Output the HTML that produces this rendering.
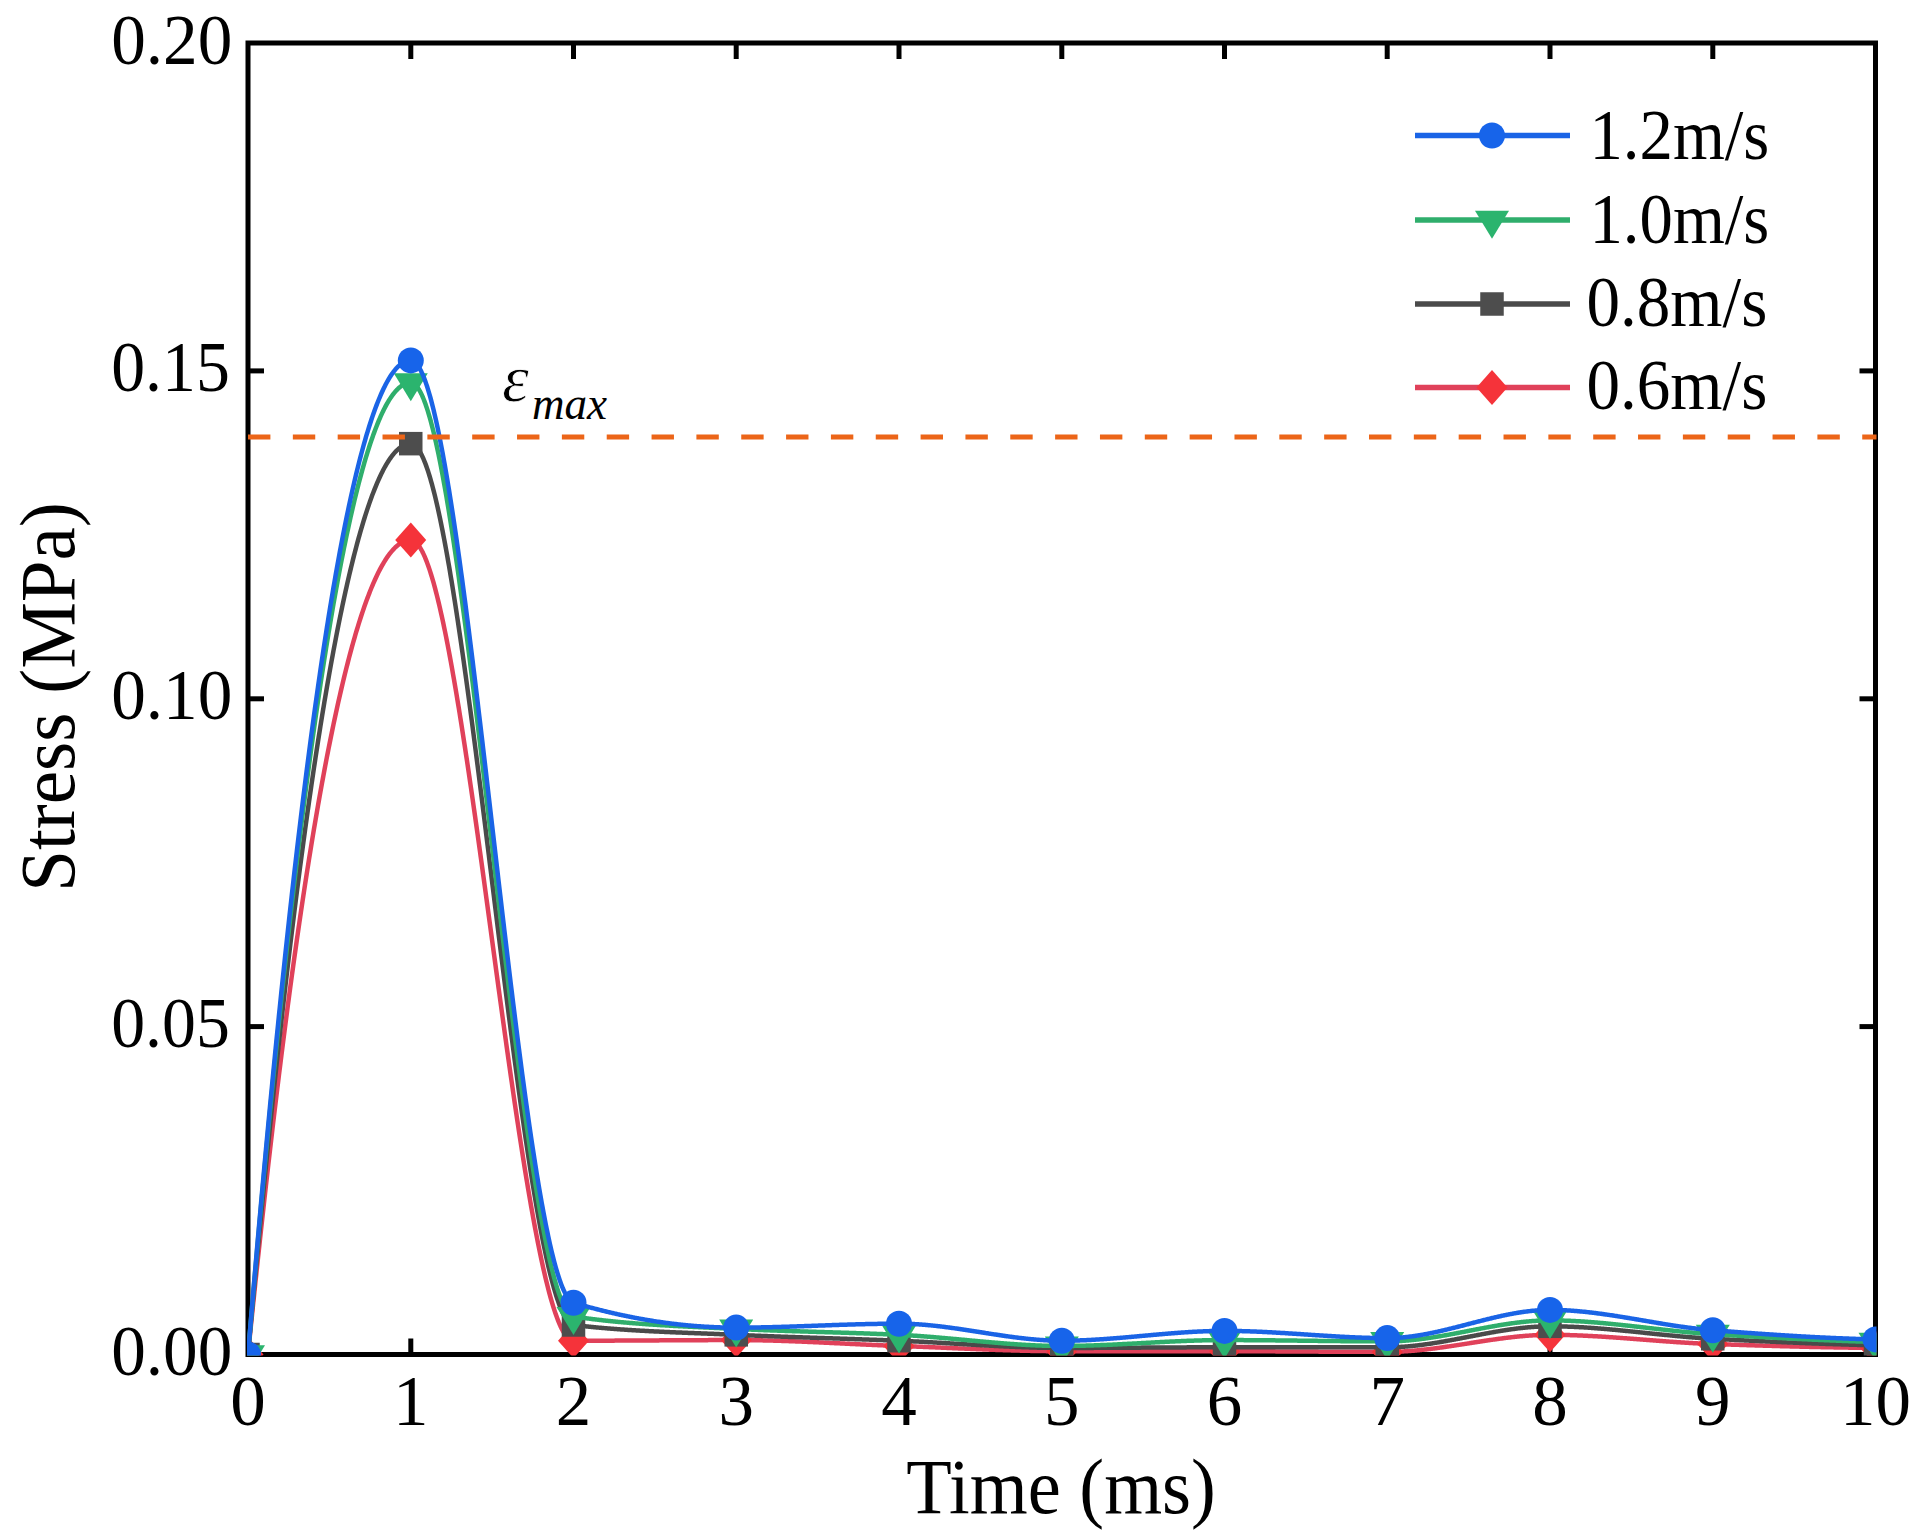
<!DOCTYPE html>
<html><head><meta charset="utf-8"><style>
html,body{margin:0;padding:0;background:#fff;}
body{width:1914px;height:1534px;overflow:hidden;}
svg{display:block;}
text{font-family:"Liberation Serif","Times New Roman",serif;fill:#000;}
.tk{font-size:71px;}
.lg{font-size:71px;}
</style></head><body>
<svg width="1914" height="1534" viewBox="0 0 1914 1534">
<rect width="1914" height="1534" fill="#fff"/>
<defs><clipPath id="pc"><rect x="247.0" y="42.0" width="1629.5" height="1313.5"/></clipPath></defs>
<g stroke="#000" stroke-width="5" fill="none">
<rect x="248.0" y="43.0" width="1627.5" height="1311.5"/>
<line x1="410.8" y1="1354.5" x2="410.8" y2="1338.5"/>
<line x1="410.8" y1="43.0" x2="410.8" y2="59.0"/>
<line x1="573.5" y1="1354.5" x2="573.5" y2="1338.5"/>
<line x1="573.5" y1="43.0" x2="573.5" y2="59.0"/>
<line x1="736.2" y1="1354.5" x2="736.2" y2="1338.5"/>
<line x1="736.2" y1="43.0" x2="736.2" y2="59.0"/>
<line x1="899.0" y1="1354.5" x2="899.0" y2="1338.5"/>
<line x1="899.0" y1="43.0" x2="899.0" y2="59.0"/>
<line x1="1061.8" y1="1354.5" x2="1061.8" y2="1338.5"/>
<line x1="1061.8" y1="43.0" x2="1061.8" y2="59.0"/>
<line x1="1224.5" y1="1354.5" x2="1224.5" y2="1338.5"/>
<line x1="1224.5" y1="43.0" x2="1224.5" y2="59.0"/>
<line x1="1387.2" y1="1354.5" x2="1387.2" y2="1338.5"/>
<line x1="1387.2" y1="43.0" x2="1387.2" y2="59.0"/>
<line x1="1550.0" y1="1354.5" x2="1550.0" y2="1338.5"/>
<line x1="1550.0" y1="43.0" x2="1550.0" y2="59.0"/>
<line x1="1712.8" y1="1354.5" x2="1712.8" y2="1338.5"/>
<line x1="1712.8" y1="43.0" x2="1712.8" y2="59.0"/>
<line x1="248.0" y1="1026.6" x2="264.0" y2="1026.6"/>
<line x1="1875.5" y1="1026.6" x2="1859.5" y2="1026.6"/>
<line x1="248.0" y1="698.8" x2="264.0" y2="698.8"/>
<line x1="1875.5" y1="698.8" x2="1859.5" y2="698.8"/>
<line x1="248.0" y1="370.9" x2="264.0" y2="370.9"/>
<line x1="1875.5" y1="370.9" x2="1859.5" y2="370.9"/>
</g>
<g clip-path="url(#pc)">
<polyline points="248.00,1354.50 248.81,1346.41 249.63,1338.36 250.44,1330.35 251.25,1322.38 252.07,1314.45 252.88,1306.56 253.70,1298.71 254.51,1290.90 255.32,1283.13 256.14,1275.40 256.95,1267.71 257.76,1260.06 258.58,1252.45 259.39,1244.89 260.21,1237.36 261.02,1229.87 261.83,1222.42 262.65,1215.01 263.46,1207.64 264.27,1200.31 265.09,1193.03 265.90,1185.78 266.72,1178.57 267.53,1171.40 268.34,1164.27 269.16,1157.19 269.97,1150.14 270.79,1143.13 271.60,1136.17 272.41,1129.24 273.23,1122.35 274.04,1115.51 274.85,1108.70 275.67,1101.93 276.48,1095.21 277.30,1088.52 278.11,1081.88 278.92,1075.27 279.74,1068.71 280.55,1062.18 281.36,1055.70 282.18,1049.25 282.99,1042.85 283.81,1036.49 284.62,1030.16 285.43,1023.88 286.25,1017.64 287.06,1011.43 287.87,1005.27 288.69,999.15 289.50,993.07 290.31,987.03 291.13,981.03 291.94,975.07 292.76,969.14 293.57,963.26 294.38,957.42 295.20,951.63 296.01,945.87 296.82,940.15 297.64,934.47 298.45,928.83 299.27,923.23 300.08,917.68 300.89,912.16 301.71,906.68 302.52,901.24 303.33,895.85 304.15,890.49 304.96,885.18 305.78,879.90 306.59,874.67 307.40,869.48 308.22,864.32 309.03,859.21 309.85,854.14 310.66,849.10 311.47,844.11 312.29,839.16 313.10,834.25 313.91,829.38 314.73,824.55 315.54,819.76 316.36,815.01 317.17,810.30 317.98,805.63 318.80,801.00 319.61,796.42 320.42,791.87 321.24,787.36 322.05,782.90 322.87,778.47 323.68,774.09 324.49,769.74 325.31,765.44 326.12,761.18 326.93,756.95 327.75,752.77 328.56,748.63 329.38,744.53 330.19,740.47 331.00,736.45 331.82,732.47 332.63,728.53 333.44,724.63 334.26,720.77 335.07,716.96 335.88,713.18 336.70,709.45 337.51,705.75 338.33,702.10 339.14,698.48 339.95,694.91 340.77,691.37 341.58,687.88 342.39,684.43 343.21,681.02 344.02,677.65 344.84,674.32 345.65,671.03 346.46,667.78 347.28,664.57 348.09,661.41 348.90,658.28 349.72,655.19 350.53,652.15 351.35,649.14 352.16,646.18 352.97,643.26 353.79,640.38 354.60,637.53 355.42,634.73 356.23,631.97 357.04,629.25 357.86,626.57 358.67,623.94 359.48,621.34 360.30,618.78 361.11,616.27 361.93,613.79 362.74,611.36 363.55,608.96 364.37,606.61 365.18,604.30 365.99,602.03 366.81,599.80 367.62,597.61 368.44,595.46 369.25,593.35 370.06,591.28 370.88,589.26 371.69,587.27 372.50,585.33 373.32,583.42 374.13,581.56 374.94,579.74 375.76,577.96 376.57,576.22 377.39,574.52 378.20,572.86 379.01,571.24 379.83,569.66 380.64,568.12 381.46,566.63 382.27,565.17 383.08,563.76 383.90,562.39 384.71,561.06 385.52,559.77 386.34,558.52 387.15,557.31 387.97,556.14 388.78,555.01 389.59,553.92 390.41,552.88 391.22,551.87 392.03,550.91 392.85,549.99 393.66,549.11 394.48,548.26 395.29,547.47 396.10,546.71 396.92,545.99 397.73,545.31 398.54,544.68 399.36,544.08 400.17,543.53 400.99,543.01 401.80,542.54 402.61,542.11 403.43,541.72 404.24,541.37 405.05,541.06 405.87,540.80 406.68,540.57 407.50,540.39 408.31,540.24 409.12,540.14 409.94,540.08 410.75,540.06 411.56,540.12 412.38,540.30 413.19,540.59 414.00,541.01 414.82,541.53 415.63,542.18 416.45,542.93 417.26,543.80 418.07,544.78 418.89,545.86 419.70,547.06 420.51,548.36 421.33,549.77 422.14,551.28 422.96,552.89 423.77,554.61 424.58,556.43 425.40,558.35 426.21,560.36 427.03,562.48 427.84,564.69 428.65,566.99 429.47,569.39 430.28,571.88 431.09,574.46 431.91,577.13 432.72,579.90 433.54,582.74 434.35,585.68 435.16,588.70 435.98,591.80 436.79,594.99 437.60,598.26 438.42,601.61 439.23,605.04 440.04,608.54 440.86,612.13 441.67,615.79 442.49,619.52 443.30,623.33 444.11,627.21 444.93,631.16 445.74,635.18 446.56,639.26 447.37,643.42 448.18,647.64 449.00,651.93 449.81,656.28 450.62,660.69 451.44,665.16 452.25,669.70 453.06,674.29 453.88,678.94 454.69,683.65 455.51,688.41 456.32,693.22 457.13,698.09 457.95,703.01 458.76,707.98 459.57,713.00 460.39,718.07 461.20,723.19 462.02,728.35 462.83,733.55 463.64,738.80 464.46,744.09 465.27,749.42 466.08,754.79 466.90,760.20 467.71,765.65 468.53,771.13 469.34,776.65 470.15,782.20 470.97,787.78 471.78,793.40 472.60,799.04 473.41,804.71 474.22,810.41 475.04,816.14 475.85,821.89 476.66,827.67 477.48,833.47 478.29,839.29 479.10,845.13 479.92,850.99 480.73,856.87 481.55,862.77 482.36,868.68 483.17,874.60 483.99,880.54 484.80,886.49 485.62,892.46 486.43,898.43 487.24,904.41 488.06,910.39 488.87,916.39 489.68,922.38 490.50,928.39 491.31,934.39 492.12,940.39 492.94,946.40 493.75,952.40 494.57,958.40 495.38,964.40 496.19,970.39 497.01,976.38 497.82,982.36 498.63,988.33 499.45,994.29 500.26,1000.24 501.08,1006.18 501.89,1012.11 502.70,1018.02 503.52,1023.92 504.33,1029.79 505.15,1035.65 505.96,1041.50 506.77,1047.32 507.59,1053.12 508.40,1058.89 509.21,1064.65 510.03,1070.37 510.84,1076.07 511.66,1081.75 512.47,1087.39 513.28,1093.01 514.10,1098.59 514.91,1104.14 515.72,1109.66 516.54,1115.14 517.35,1120.59 518.16,1126.00 518.98,1131.37 519.79,1136.70 520.61,1141.99 521.42,1147.24 522.23,1152.44 523.05,1157.60 523.86,1162.72 524.67,1167.78 525.49,1172.80 526.30,1177.78 527.12,1182.70 527.93,1187.56 528.74,1192.38 529.56,1197.14 530.37,1201.85 531.18,1206.50 532.00,1211.09 532.81,1215.62 533.63,1220.10 534.44,1224.51 535.25,1228.86 536.07,1233.15 536.88,1237.37 537.69,1241.52 538.51,1245.61 539.32,1249.63 540.14,1253.58 540.95,1257.46 541.76,1261.27 542.58,1265.00 543.39,1268.66 544.21,1272.24 545.02,1275.75 545.83,1279.18 546.65,1282.53 547.46,1285.80 548.27,1288.98 549.09,1292.09 549.90,1295.11 550.72,1298.04 551.53,1300.89 552.34,1303.65 553.16,1306.33 553.97,1308.91 554.78,1311.40 555.60,1313.80 556.41,1316.10 557.23,1318.31 558.04,1320.42 558.85,1322.44 559.67,1324.36 560.48,1326.18 561.29,1327.89 562.11,1329.51 562.92,1331.02 563.74,1332.43 564.55,1333.73 565.36,1334.92 566.18,1336.01 566.99,1336.99 567.80,1337.86 568.62,1338.61 569.43,1339.25 570.25,1339.78 571.06,1340.19 571.87,1340.49 572.69,1340.67 573.50,1340.73 574.31,1340.73 575.13,1340.73 575.94,1340.73 576.75,1340.73 577.57,1340.73 578.38,1340.73 579.20,1340.73 580.01,1340.73 580.82,1340.73 581.64,1340.72 582.45,1340.72 583.26,1340.72 584.08,1340.72 584.89,1340.72 585.71,1340.72 586.52,1340.72 587.33,1340.72 588.15,1340.71 588.96,1340.71 589.77,1340.71 590.59,1340.71 591.40,1340.71 592.22,1340.71 593.03,1340.70 593.84,1340.70 594.66,1340.70 595.47,1340.70 596.29,1340.69 597.10,1340.69 597.91,1340.69 598.73,1340.69 599.54,1340.68 600.35,1340.68 601.17,1340.68 601.98,1340.68 602.80,1340.67 603.61,1340.67 604.42,1340.67 605.24,1340.66 606.05,1340.66 606.86,1340.66 607.68,1340.65 608.49,1340.65 609.31,1340.65 610.12,1340.64 610.93,1340.64 611.75,1340.64 612.56,1340.63 613.37,1340.63 614.19,1340.63 615.00,1340.62 615.82,1340.62 616.63,1340.62 617.44,1340.61 618.26,1340.61 619.07,1340.60 619.88,1340.60 620.70,1340.60 621.51,1340.59 622.33,1340.59 623.14,1340.58 623.95,1340.58 624.77,1340.58 625.58,1340.57 626.39,1340.57 627.21,1340.56 628.02,1340.56 628.84,1340.55 629.65,1340.55 630.46,1340.54 631.28,1340.54 632.09,1340.54 632.90,1340.53 633.72,1340.53 634.53,1340.52 635.35,1340.52 636.16,1340.51 636.97,1340.51 637.79,1340.50 638.60,1340.50 639.41,1340.49 640.23,1340.49 641.04,1340.48 641.86,1340.48 642.67,1340.47 643.48,1340.47 644.30,1340.46 645.11,1340.46 645.92,1340.46 646.74,1340.45 647.55,1340.45 648.37,1340.44 649.18,1340.44 649.99,1340.43 650.81,1340.43 651.62,1340.42 652.43,1340.42 653.25,1340.41 654.06,1340.41 654.88,1340.40 655.69,1340.40 656.50,1340.39 657.32,1340.39 658.13,1340.38 658.94,1340.38 659.76,1340.37 660.57,1340.37 661.38,1340.36 662.20,1340.36 663.01,1340.35 663.83,1340.35 664.64,1340.34 665.45,1340.34 666.27,1340.33 667.08,1340.33 667.89,1340.32 668.71,1340.32 669.52,1340.31 670.34,1340.31 671.15,1340.30 671.96,1340.30 672.78,1340.29 673.59,1340.29 674.40,1340.29 675.22,1340.28 676.03,1340.28 676.85,1340.27 677.66,1340.27 678.47,1340.26 679.29,1340.26 680.10,1340.25 680.92,1340.25 681.73,1340.24 682.54,1340.24 683.36,1340.24 684.17,1340.23 684.98,1340.23 685.80,1340.22 686.61,1340.22 687.42,1340.22 688.24,1340.21 689.05,1340.21 689.87,1340.20 690.68,1340.20 691.49,1340.19 692.31,1340.19 693.12,1340.19 693.94,1340.18 694.75,1340.18 695.56,1340.18 696.38,1340.17 697.19,1340.17 698.00,1340.17 698.82,1340.16 699.63,1340.16 700.45,1340.15 701.26,1340.15 702.07,1340.15 702.89,1340.14 703.70,1340.14 704.51,1340.14 705.33,1340.14 706.14,1340.13 706.96,1340.13 707.77,1340.13 708.58,1340.12 709.40,1340.12 710.21,1340.12 711.02,1340.12 711.84,1340.11 712.65,1340.11 713.46,1340.11 714.28,1340.11 715.09,1340.10 715.91,1340.10 716.72,1340.10 717.53,1340.10 718.35,1340.10 719.16,1340.09 719.98,1340.09 720.79,1340.09 721.60,1340.09 722.42,1340.09 723.23,1340.09 724.04,1340.08 724.86,1340.08 725.67,1340.08 726.49,1340.08 727.30,1340.08 728.11,1340.08 728.93,1340.08 729.74,1340.08 730.55,1340.08 731.37,1340.08 732.18,1340.07 733.00,1340.07 733.81,1340.07 734.62,1340.07 735.44,1340.07 736.25,1340.07 737.06,1340.07 737.88,1340.07 738.69,1340.08 739.50,1340.08 740.32,1340.08 741.13,1340.08 741.95,1340.09 742.76,1340.09 743.57,1340.10 744.39,1340.10 745.20,1340.11 746.01,1340.12 746.83,1340.12 747.64,1340.13 748.46,1340.14 749.27,1340.15 750.08,1340.16 750.90,1340.17 751.71,1340.18 752.52,1340.19 753.34,1340.20 754.15,1340.21 754.97,1340.22 755.78,1340.24 756.59,1340.25 757.41,1340.27 758.22,1340.28 759.04,1340.29 759.85,1340.31 760.66,1340.33 761.48,1340.34 762.29,1340.36 763.10,1340.38 763.92,1340.39 764.73,1340.41 765.54,1340.43 766.36,1340.45 767.17,1340.47 767.99,1340.49 768.80,1340.51 769.61,1340.53 770.43,1340.55 771.24,1340.57 772.06,1340.60 772.87,1340.62 773.68,1340.64 774.50,1340.66 775.31,1340.69 776.12,1340.71 776.94,1340.74 777.75,1340.76 778.57,1340.79 779.38,1340.81 780.19,1340.84 781.01,1340.86 781.82,1340.89 782.63,1340.92 783.45,1340.94 784.26,1340.97 785.08,1341.00 785.89,1341.03 786.70,1341.06 787.52,1341.08 788.33,1341.11 789.14,1341.14 789.96,1341.17 790.77,1341.20 791.58,1341.23 792.40,1341.26 793.21,1341.29 794.03,1341.33 794.84,1341.36 795.65,1341.39 796.47,1341.42 797.28,1341.45 798.10,1341.49 798.91,1341.52 799.72,1341.55 800.54,1341.58 801.35,1341.62 802.16,1341.65 802.98,1341.69 803.79,1341.72 804.61,1341.75 805.42,1341.79 806.23,1341.82 807.05,1341.86 807.86,1341.89 808.67,1341.93 809.49,1341.96 810.30,1342.00 811.12,1342.04 811.93,1342.07 812.74,1342.11 813.56,1342.15 814.37,1342.18 815.18,1342.22 816.00,1342.26 816.81,1342.29 817.62,1342.33 818.44,1342.37 819.25,1342.40 820.07,1342.44 820.88,1342.48 821.69,1342.52 822.51,1342.56 823.32,1342.59 824.13,1342.63 824.95,1342.67 825.76,1342.71 826.58,1342.75 827.39,1342.79 828.20,1342.83 829.02,1342.86 829.83,1342.90 830.64,1342.94 831.46,1342.98 832.27,1343.02 833.09,1343.06 833.90,1343.10 834.71,1343.14 835.53,1343.18 836.34,1343.22 837.15,1343.25 837.97,1343.29 838.78,1343.33 839.60,1343.37 840.41,1343.41 841.22,1343.45 842.04,1343.49 842.85,1343.53 843.67,1343.57 844.48,1343.61 845.29,1343.65 846.11,1343.69 846.92,1343.73 847.73,1343.77 848.55,1343.81 849.36,1343.84 850.17,1343.88 850.99,1343.92 851.80,1343.96 852.62,1344.00 853.43,1344.04 854.24,1344.08 855.06,1344.12 855.87,1344.16 856.69,1344.19 857.50,1344.23 858.31,1344.27 859.13,1344.31 859.94,1344.35 860.75,1344.39 861.57,1344.42 862.38,1344.46 863.20,1344.50 864.01,1344.54 864.82,1344.58 865.64,1344.61 866.45,1344.65 867.26,1344.69 868.08,1344.72 868.89,1344.76 869.71,1344.80 870.52,1344.83 871.33,1344.87 872.15,1344.91 872.96,1344.94 873.77,1344.98 874.59,1345.01 875.40,1345.05 876.21,1345.09 877.03,1345.12 877.84,1345.16 878.66,1345.19 879.47,1345.22 880.28,1345.26 881.10,1345.29 881.91,1345.33 882.73,1345.36 883.54,1345.39 884.35,1345.43 885.17,1345.46 885.98,1345.49 886.79,1345.52 887.61,1345.56 888.42,1345.59 889.24,1345.62 890.05,1345.65 890.86,1345.68 891.68,1345.71 892.49,1345.74 893.30,1345.77 894.12,1345.80 894.93,1345.83 895.75,1345.86 896.56,1345.89 897.37,1345.92 898.19,1345.95 899.00,1345.98 899.81,1346.00 900.63,1346.03 901.44,1346.06 902.26,1346.09 903.07,1346.12 903.88,1346.15 904.70,1346.18 905.51,1346.20 906.32,1346.23 907.14,1346.26 907.95,1346.29 908.77,1346.32 909.58,1346.35 910.39,1346.39 911.21,1346.42 912.02,1346.45 912.83,1346.48 913.65,1346.51 914.46,1346.54 915.27,1346.57 916.09,1346.60 916.90,1346.64 917.72,1346.67 918.53,1346.70 919.34,1346.73 920.16,1346.76 920.97,1346.80 921.78,1346.83 922.60,1346.86 923.41,1346.90 924.23,1346.93 925.04,1346.96 925.85,1347.00 926.67,1347.03 927.48,1347.06 928.29,1347.10 929.11,1347.13 929.92,1347.16 930.74,1347.20 931.55,1347.23 932.36,1347.27 933.18,1347.30 933.99,1347.33 934.80,1347.37 935.62,1347.40 936.43,1347.44 937.25,1347.47 938.06,1347.51 938.87,1347.54 939.69,1347.58 940.50,1347.61 941.31,1347.65 942.13,1347.68 942.94,1347.72 943.76,1347.75 944.57,1347.79 945.38,1347.82 946.20,1347.85 947.01,1347.89 947.83,1347.92 948.64,1347.96 949.45,1347.99 950.27,1348.03 951.08,1348.06 951.89,1348.10 952.71,1348.13 953.52,1348.17 954.33,1348.20 955.15,1348.24 955.96,1348.27 956.78,1348.31 957.59,1348.34 958.40,1348.38 959.22,1348.41 960.03,1348.45 960.85,1348.48 961.66,1348.52 962.47,1348.55 963.29,1348.59 964.10,1348.62 964.91,1348.66 965.73,1348.69 966.54,1348.72 967.36,1348.76 968.17,1348.79 968.98,1348.83 969.80,1348.86 970.61,1348.89 971.42,1348.93 972.24,1348.96 973.05,1349.00 973.87,1349.03 974.68,1349.06 975.49,1349.10 976.31,1349.13 977.12,1349.16 977.93,1349.19 978.75,1349.23 979.56,1349.26 980.38,1349.29 981.19,1349.32 982.00,1349.36 982.82,1349.39 983.63,1349.42 984.44,1349.45 985.26,1349.48 986.07,1349.52 986.88,1349.55 987.70,1349.58 988.51,1349.61 989.33,1349.64 990.14,1349.67 990.95,1349.70 991.77,1349.73 992.58,1349.76 993.39,1349.79 994.21,1349.82 995.02,1349.85 995.84,1349.88 996.65,1349.91 997.46,1349.94 998.28,1349.97 999.09,1349.99 999.90,1350.02 1000.72,1350.05 1001.53,1350.08 1002.35,1350.10 1003.16,1350.13 1003.97,1350.16 1004.79,1350.19 1005.60,1350.21 1006.42,1350.24 1007.23,1350.26 1008.04,1350.29 1008.86,1350.32 1009.67,1350.34 1010.48,1350.37 1011.30,1350.39 1012.11,1350.41 1012.92,1350.44 1013.74,1350.46 1014.55,1350.49 1015.37,1350.51 1016.18,1350.53 1016.99,1350.55 1017.81,1350.58 1018.62,1350.60 1019.44,1350.62 1020.25,1350.64 1021.06,1350.66 1021.88,1350.68 1022.69,1350.70 1023.50,1350.72 1024.32,1350.74 1025.13,1350.76 1025.95,1350.78 1026.76,1350.80 1027.57,1350.82 1028.39,1350.84 1029.20,1350.85 1030.01,1350.87 1030.83,1350.89 1031.64,1350.90 1032.45,1350.92 1033.27,1350.94 1034.08,1350.95 1034.90,1350.97 1035.71,1350.98 1036.52,1350.99 1037.34,1351.01 1038.15,1351.02 1038.97,1351.04 1039.78,1351.05 1040.59,1351.06 1041.41,1351.07 1042.22,1351.08 1043.03,1351.09 1043.85,1351.10 1044.66,1351.11 1045.48,1351.12 1046.29,1351.13 1047.10,1351.14 1047.92,1351.15 1048.73,1351.16 1049.54,1351.17 1050.36,1351.17 1051.17,1351.18 1051.99,1351.19 1052.80,1351.19 1053.61,1351.20 1054.43,1351.20 1055.24,1351.21 1056.05,1351.21 1056.87,1351.21 1057.68,1351.21 1058.50,1351.22 1059.31,1351.22 1060.12,1351.22 1060.94,1351.22 1061.75,1351.22 1062.56,1351.22 1063.38,1351.22 1064.19,1351.22 1065.01,1351.22 1065.82,1351.22 1066.63,1351.22 1067.45,1351.22 1068.26,1351.22 1069.07,1351.22 1069.89,1351.22 1070.70,1351.22 1071.52,1351.22 1072.33,1351.22 1073.14,1351.22 1073.96,1351.22 1074.77,1351.22 1075.58,1351.22 1076.40,1351.22 1077.21,1351.22 1078.03,1351.22 1078.84,1351.22 1079.65,1351.22 1080.47,1351.22 1081.28,1351.22 1082.09,1351.22 1082.91,1351.22 1083.72,1351.22 1084.54,1351.22 1085.35,1351.22 1086.16,1351.22 1086.98,1351.22 1087.79,1351.22 1088.60,1351.22 1089.42,1351.22 1090.23,1351.22 1091.04,1351.22 1091.86,1351.22 1092.67,1351.22 1093.49,1351.22 1094.30,1351.22 1095.11,1351.22 1095.93,1351.22 1096.74,1351.22 1097.55,1351.22 1098.37,1351.22 1099.18,1351.22 1100.00,1351.22 1100.81,1351.22 1101.62,1351.22 1102.44,1351.22 1103.25,1351.22 1104.07,1351.22 1104.88,1351.22 1105.69,1351.22 1106.51,1351.22 1107.32,1351.22 1108.13,1351.22 1108.95,1351.22 1109.76,1351.22 1110.58,1351.22 1111.39,1351.22 1112.20,1351.22 1113.02,1351.22 1113.83,1351.22 1114.64,1351.22 1115.46,1351.22 1116.27,1351.22 1117.09,1351.22 1117.90,1351.22 1118.71,1351.22 1119.53,1351.22 1120.34,1351.22 1121.15,1351.22 1121.97,1351.22 1122.78,1351.22 1123.60,1351.22 1124.41,1351.22 1125.22,1351.22 1126.04,1351.22 1126.85,1351.22 1127.66,1351.22 1128.48,1351.22 1129.29,1351.22 1130.11,1351.22 1130.92,1351.22 1131.73,1351.22 1132.55,1351.22 1133.36,1351.22 1134.17,1351.22 1134.99,1351.22 1135.80,1351.22 1136.62,1351.22 1137.43,1351.22 1138.24,1351.22 1139.06,1351.22 1139.87,1351.22 1140.68,1351.22 1141.50,1351.22 1142.31,1351.22 1143.12,1351.22 1143.94,1351.22 1144.75,1351.22 1145.57,1351.22 1146.38,1351.22 1147.19,1351.22 1148.01,1351.22 1148.82,1351.22 1149.63,1351.22 1150.45,1351.22 1151.26,1351.22 1152.08,1351.22 1152.89,1351.22 1153.70,1351.22 1154.52,1351.22 1155.33,1351.22 1156.14,1351.22 1156.96,1351.22 1157.77,1351.22 1158.59,1351.22 1159.40,1351.22 1160.21,1351.22 1161.03,1351.22 1161.84,1351.22 1162.65,1351.22 1163.47,1351.22 1164.28,1351.22 1165.10,1351.22 1165.91,1351.22 1166.72,1351.22 1167.54,1351.22 1168.35,1351.22 1169.16,1351.22 1169.98,1351.22 1170.79,1351.22 1171.61,1351.22 1172.42,1351.22 1173.23,1351.22 1174.05,1351.22 1174.86,1351.22 1175.67,1351.22 1176.49,1351.22 1177.30,1351.22 1178.12,1351.22 1178.93,1351.22 1179.74,1351.22 1180.56,1351.22 1181.37,1351.22 1182.18,1351.22 1183.00,1351.22 1183.81,1351.22 1184.63,1351.22 1185.44,1351.22 1186.25,1351.22 1187.07,1351.22 1187.88,1351.22 1188.70,1351.22 1189.51,1351.22 1190.32,1351.22 1191.14,1351.22 1191.95,1351.22 1192.76,1351.22 1193.58,1351.22 1194.39,1351.22 1195.21,1351.22 1196.02,1351.22 1196.83,1351.22 1197.65,1351.22 1198.46,1351.22 1199.27,1351.22 1200.09,1351.22 1200.90,1351.22 1201.71,1351.22 1202.53,1351.22 1203.34,1351.22 1204.16,1351.22 1204.97,1351.22 1205.78,1351.22 1206.60,1351.22 1207.41,1351.22 1208.22,1351.22 1209.04,1351.22 1209.85,1351.22 1210.67,1351.22 1211.48,1351.22 1212.29,1351.22 1213.11,1351.22 1213.92,1351.22 1214.74,1351.22 1215.55,1351.22 1216.36,1351.22 1217.18,1351.22 1217.99,1351.22 1218.80,1351.22 1219.62,1351.22 1220.43,1351.22 1221.25,1351.22 1222.06,1351.22 1222.87,1351.22 1223.69,1351.22 1224.50,1351.22 1225.31,1351.22 1226.13,1351.22 1226.94,1351.22 1227.76,1351.22 1228.57,1351.22 1229.38,1351.22 1230.20,1351.22 1231.01,1351.22 1231.82,1351.23 1232.64,1351.23 1233.45,1351.23 1234.27,1351.23 1235.08,1351.23 1235.89,1351.23 1236.71,1351.23 1237.52,1351.23 1238.33,1351.23 1239.15,1351.24 1239.96,1351.24 1240.78,1351.24 1241.59,1351.24 1242.40,1351.24 1243.22,1351.25 1244.03,1351.25 1244.84,1351.25 1245.66,1351.25 1246.47,1351.25 1247.29,1351.26 1248.10,1351.26 1248.91,1351.26 1249.73,1351.26 1250.54,1351.27 1251.35,1351.27 1252.17,1351.27 1252.98,1351.27 1253.79,1351.28 1254.61,1351.28 1255.42,1351.28 1256.24,1351.29 1257.05,1351.29 1257.86,1351.29 1258.68,1351.30 1259.49,1351.30 1260.30,1351.30 1261.12,1351.31 1261.93,1351.31 1262.75,1351.31 1263.56,1351.32 1264.37,1351.32 1265.19,1351.32 1266.00,1351.33 1266.82,1351.33 1267.63,1351.33 1268.44,1351.34 1269.26,1351.34 1270.07,1351.35 1270.88,1351.35 1271.70,1351.35 1272.51,1351.36 1273.33,1351.36 1274.14,1351.37 1274.95,1351.37 1275.77,1351.38 1276.58,1351.38 1277.39,1351.38 1278.21,1351.39 1279.02,1351.39 1279.84,1351.40 1280.65,1351.40 1281.46,1351.41 1282.28,1351.41 1283.09,1351.42 1283.90,1351.42 1284.72,1351.42 1285.53,1351.43 1286.35,1351.43 1287.16,1351.44 1287.97,1351.44 1288.79,1351.45 1289.60,1351.45 1290.41,1351.46 1291.23,1351.46 1292.04,1351.47 1292.86,1351.47 1293.67,1351.48 1294.48,1351.48 1295.30,1351.49 1296.11,1351.49 1296.92,1351.50 1297.74,1351.50 1298.55,1351.50 1299.37,1351.51 1300.18,1351.51 1300.99,1351.52 1301.81,1351.52 1302.62,1351.53 1303.43,1351.53 1304.25,1351.54 1305.06,1351.54 1305.88,1351.55 1306.69,1351.55 1307.50,1351.56 1308.32,1351.56 1309.13,1351.57 1309.94,1351.57 1310.76,1351.58 1311.57,1351.58 1312.38,1351.59 1313.20,1351.59 1314.01,1351.60 1314.83,1351.60 1315.64,1351.61 1316.45,1351.61 1317.27,1351.62 1318.08,1351.62 1318.89,1351.63 1319.71,1351.63 1320.52,1351.64 1321.34,1351.64 1322.15,1351.65 1322.96,1351.65 1323.78,1351.66 1324.59,1351.66 1325.40,1351.66 1326.22,1351.67 1327.03,1351.67 1327.85,1351.68 1328.66,1351.68 1329.47,1351.69 1330.29,1351.69 1331.10,1351.70 1331.91,1351.70 1332.73,1351.71 1333.54,1351.71 1334.36,1351.71 1335.17,1351.72 1335.98,1351.72 1336.80,1351.73 1337.61,1351.73 1338.42,1351.74 1339.24,1351.74 1340.05,1351.74 1340.87,1351.75 1341.68,1351.75 1342.49,1351.76 1343.31,1351.76 1344.12,1351.76 1344.93,1351.77 1345.75,1351.77 1346.56,1351.77 1347.38,1351.78 1348.19,1351.78 1349.00,1351.79 1349.82,1351.79 1350.63,1351.79 1351.45,1351.80 1352.26,1351.80 1353.07,1351.80 1353.89,1351.81 1354.70,1351.81 1355.51,1351.81 1356.33,1351.81 1357.14,1351.82 1357.96,1351.82 1358.77,1351.82 1359.58,1351.83 1360.40,1351.83 1361.21,1351.83 1362.02,1351.83 1362.84,1351.84 1363.65,1351.84 1364.46,1351.84 1365.28,1351.84 1366.09,1351.85 1366.91,1351.85 1367.72,1351.85 1368.53,1351.85 1369.35,1351.85 1370.16,1351.86 1370.97,1351.86 1371.79,1351.86 1372.60,1351.86 1373.42,1351.86 1374.23,1351.87 1375.04,1351.87 1375.86,1351.87 1376.67,1351.87 1377.49,1351.87 1378.30,1351.87 1379.11,1351.87 1379.93,1351.87 1380.74,1351.87 1381.55,1351.87 1382.37,1351.88 1383.18,1351.88 1384.00,1351.88 1384.81,1351.88 1385.62,1351.88 1386.44,1351.88 1387.25,1351.88 1388.06,1351.88 1388.88,1351.87 1389.69,1351.87 1390.51,1351.86 1391.32,1351.85 1392.13,1351.83 1392.95,1351.82 1393.76,1351.80 1394.57,1351.78 1395.39,1351.75 1396.20,1351.73 1397.02,1351.70 1397.83,1351.67 1398.64,1351.64 1399.46,1351.60 1400.27,1351.57 1401.08,1351.53 1401.90,1351.49 1402.71,1351.44 1403.53,1351.40 1404.34,1351.35 1405.15,1351.30 1405.97,1351.25 1406.78,1351.20 1407.59,1351.14 1408.41,1351.09 1409.22,1351.03 1410.04,1350.97 1410.85,1350.91 1411.66,1350.84 1412.48,1350.78 1413.29,1350.71 1414.10,1350.64 1414.92,1350.57 1415.73,1350.49 1416.54,1350.42 1417.36,1350.34 1418.17,1350.26 1418.99,1350.18 1419.80,1350.10 1420.61,1350.02 1421.43,1349.94 1422.24,1349.85 1423.05,1349.76 1423.87,1349.68 1424.68,1349.59 1425.50,1349.49 1426.31,1349.40 1427.12,1349.31 1427.94,1349.21 1428.75,1349.12 1429.57,1349.02 1430.38,1348.92 1431.19,1348.82 1432.01,1348.72 1432.82,1348.62 1433.63,1348.51 1434.45,1348.41 1435.26,1348.30 1436.08,1348.19 1436.89,1348.09 1437.70,1347.98 1438.52,1347.87 1439.33,1347.76 1440.14,1347.64 1440.96,1347.53 1441.77,1347.42 1442.59,1347.30 1443.40,1347.19 1444.21,1347.07 1445.03,1346.96 1445.84,1346.84 1446.65,1346.72 1447.47,1346.60 1448.28,1346.48 1449.10,1346.36 1449.91,1346.24 1450.72,1346.12 1451.54,1346.00 1452.35,1345.88 1453.16,1345.75 1453.98,1345.63 1454.79,1345.51 1455.61,1345.38 1456.42,1345.26 1457.23,1345.13 1458.05,1345.01 1458.86,1344.88 1459.67,1344.75 1460.49,1344.63 1461.30,1344.50 1462.12,1344.37 1462.93,1344.25 1463.74,1344.12 1464.56,1343.99 1465.37,1343.86 1466.18,1343.74 1467.00,1343.61 1467.81,1343.48 1468.62,1343.35 1469.44,1343.22 1470.25,1343.10 1471.07,1342.97 1471.88,1342.84 1472.69,1342.71 1473.51,1342.59 1474.32,1342.46 1475.13,1342.33 1475.95,1342.20 1476.76,1342.08 1477.58,1341.95 1478.39,1341.83 1479.20,1341.70 1480.02,1341.57 1480.83,1341.45 1481.64,1341.32 1482.46,1341.20 1483.27,1341.08 1484.09,1340.95 1484.90,1340.83 1485.71,1340.71 1486.53,1340.58 1487.34,1340.46 1488.15,1340.34 1488.97,1340.22 1489.78,1340.10 1490.60,1339.98 1491.41,1339.87 1492.22,1339.75 1493.04,1339.63 1493.85,1339.52 1494.66,1339.40 1495.48,1339.29 1496.29,1339.17 1497.11,1339.06 1497.92,1338.95 1498.73,1338.84 1499.55,1338.73 1500.36,1338.62 1501.17,1338.51 1501.99,1338.40 1502.80,1338.30 1503.62,1338.19 1504.43,1338.09 1505.24,1337.99 1506.06,1337.89 1506.87,1337.78 1507.68,1337.69 1508.50,1337.59 1509.31,1337.49 1510.13,1337.40 1510.94,1337.30 1511.75,1337.21 1512.57,1337.12 1513.38,1337.03 1514.20,1336.94 1515.01,1336.85 1515.82,1336.77 1516.64,1336.68 1517.45,1336.60 1518.26,1336.52 1519.08,1336.44 1519.89,1336.36 1520.71,1336.29 1521.52,1336.21 1522.33,1336.14 1523.15,1336.07 1523.96,1336.00 1524.77,1335.93 1525.59,1335.86 1526.40,1335.80 1527.21,1335.74 1528.03,1335.68 1528.84,1335.62 1529.66,1335.56 1530.47,1335.51 1531.28,1335.45 1532.10,1335.40 1532.91,1335.35 1533.72,1335.30 1534.54,1335.26 1535.35,1335.22 1536.17,1335.18 1536.98,1335.14 1537.79,1335.10 1538.61,1335.07 1539.42,1335.03 1540.24,1335.00 1541.05,1334.98 1541.86,1334.95 1542.68,1334.93 1543.49,1334.91 1544.30,1334.89 1545.12,1334.87 1545.93,1334.86 1546.75,1334.85 1547.56,1334.84 1548.37,1334.83 1549.19,1334.83 1550.00,1334.83 1550.81,1334.83 1551.63,1334.83 1552.44,1334.83 1553.25,1334.84 1554.07,1334.84 1554.88,1334.85 1555.70,1334.85 1556.51,1334.86 1557.32,1334.87 1558.14,1334.88 1558.95,1334.89 1559.77,1334.90 1560.58,1334.92 1561.39,1334.93 1562.21,1334.95 1563.02,1334.96 1563.83,1334.98 1564.65,1335.00 1565.46,1335.02 1566.28,1335.03 1567.09,1335.06 1567.90,1335.08 1568.72,1335.10 1569.53,1335.12 1570.34,1335.15 1571.16,1335.17 1571.97,1335.20 1572.79,1335.22 1573.60,1335.25 1574.41,1335.28 1575.23,1335.31 1576.04,1335.34 1576.85,1335.37 1577.67,1335.40 1578.48,1335.43 1579.29,1335.47 1580.11,1335.50 1580.92,1335.53 1581.74,1335.57 1582.55,1335.61 1583.36,1335.64 1584.18,1335.68 1584.99,1335.72 1585.81,1335.76 1586.62,1335.80 1587.43,1335.84 1588.25,1335.88 1589.06,1335.92 1589.87,1335.96 1590.69,1336.00 1591.50,1336.05 1592.32,1336.09 1593.13,1336.14 1593.94,1336.18 1594.76,1336.23 1595.57,1336.27 1596.38,1336.32 1597.20,1336.37 1598.01,1336.41 1598.83,1336.46 1599.64,1336.51 1600.45,1336.56 1601.27,1336.61 1602.08,1336.66 1602.89,1336.71 1603.71,1336.77 1604.52,1336.82 1605.34,1336.87 1606.15,1336.92 1606.96,1336.98 1607.78,1337.03 1608.59,1337.08 1609.40,1337.14 1610.22,1337.19 1611.03,1337.25 1611.85,1337.30 1612.66,1337.36 1613.47,1337.42 1614.29,1337.47 1615.10,1337.53 1615.91,1337.59 1616.73,1337.65 1617.54,1337.70 1618.36,1337.76 1619.17,1337.82 1619.98,1337.88 1620.80,1337.94 1621.61,1338.00 1622.42,1338.06 1623.24,1338.12 1624.05,1338.18 1624.87,1338.24 1625.68,1338.30 1626.49,1338.36 1627.31,1338.42 1628.12,1338.48 1628.93,1338.54 1629.75,1338.61 1630.56,1338.67 1631.38,1338.73 1632.19,1338.79 1633.00,1338.85 1633.82,1338.92 1634.63,1338.98 1635.44,1339.04 1636.26,1339.10 1637.07,1339.17 1637.89,1339.23 1638.70,1339.29 1639.51,1339.35 1640.33,1339.42 1641.14,1339.48 1641.95,1339.54 1642.77,1339.61 1643.58,1339.67 1644.39,1339.73 1645.21,1339.79 1646.02,1339.86 1646.84,1339.92 1647.65,1339.98 1648.46,1340.05 1649.28,1340.11 1650.09,1340.17 1650.91,1340.23 1651.72,1340.30 1652.53,1340.36 1653.35,1340.42 1654.16,1340.48 1654.97,1340.55 1655.79,1340.61 1656.60,1340.67 1657.41,1340.73 1658.23,1340.79 1659.04,1340.85 1659.86,1340.91 1660.67,1340.97 1661.48,1341.03 1662.30,1341.10 1663.11,1341.16 1663.93,1341.22 1664.74,1341.27 1665.55,1341.33 1666.37,1341.39 1667.18,1341.45 1667.99,1341.51 1668.81,1341.57 1669.62,1341.63 1670.43,1341.68 1671.25,1341.74 1672.06,1341.80 1672.88,1341.86 1673.69,1341.91 1674.50,1341.97 1675.32,1342.02 1676.13,1342.08 1676.94,1342.13 1677.76,1342.19 1678.57,1342.24 1679.39,1342.30 1680.20,1342.35 1681.01,1342.40 1681.83,1342.45 1682.64,1342.50 1683.46,1342.56 1684.27,1342.61 1685.08,1342.66 1685.90,1342.71 1686.71,1342.76 1687.52,1342.81 1688.34,1342.85 1689.15,1342.90 1689.96,1342.95 1690.78,1342.99 1691.59,1343.04 1692.41,1343.09 1693.22,1343.13 1694.03,1343.18 1694.85,1343.22 1695.66,1343.26 1696.47,1343.30 1697.29,1343.35 1698.10,1343.39 1698.92,1343.43 1699.73,1343.47 1700.54,1343.51 1701.36,1343.55 1702.17,1343.58 1702.98,1343.62 1703.80,1343.66 1704.61,1343.69 1705.43,1343.73 1706.24,1343.76 1707.05,1343.80 1707.87,1343.83 1708.68,1343.86 1709.50,1343.89 1710.31,1343.92 1711.12,1343.95 1711.94,1343.98 1712.75,1344.01 1713.56,1344.04 1714.38,1344.06 1715.19,1344.09 1716.00,1344.12 1716.82,1344.15 1717.63,1344.17 1718.45,1344.20 1719.26,1344.23 1720.07,1344.25 1720.89,1344.28 1721.70,1344.31 1722.52,1344.34 1723.33,1344.36 1724.14,1344.39 1724.96,1344.42 1725.77,1344.44 1726.58,1344.47 1727.40,1344.50 1728.21,1344.53 1729.03,1344.55 1729.84,1344.58 1730.65,1344.61 1731.47,1344.63 1732.28,1344.66 1733.09,1344.69 1733.91,1344.71 1734.72,1344.74 1735.54,1344.77 1736.35,1344.79 1737.16,1344.82 1737.98,1344.85 1738.79,1344.87 1739.60,1344.90 1740.42,1344.92 1741.23,1344.95 1742.04,1344.98 1742.86,1345.00 1743.67,1345.03 1744.49,1345.05 1745.30,1345.08 1746.11,1345.11 1746.93,1345.13 1747.74,1345.16 1748.56,1345.18 1749.37,1345.21 1750.18,1345.23 1751.00,1345.26 1751.81,1345.29 1752.62,1345.31 1753.44,1345.34 1754.25,1345.36 1755.07,1345.39 1755.88,1345.41 1756.69,1345.44 1757.51,1345.46 1758.32,1345.49 1759.13,1345.51 1759.95,1345.54 1760.76,1345.56 1761.58,1345.58 1762.39,1345.61 1763.20,1345.63 1764.02,1345.66 1764.83,1345.68 1765.64,1345.71 1766.46,1345.73 1767.27,1345.75 1768.09,1345.78 1768.90,1345.80 1769.71,1345.83 1770.53,1345.85 1771.34,1345.87 1772.15,1345.90 1772.97,1345.92 1773.78,1345.94 1774.60,1345.97 1775.41,1345.99 1776.22,1346.01 1777.04,1346.04 1777.85,1346.06 1778.66,1346.08 1779.48,1346.11 1780.29,1346.13 1781.11,1346.15 1781.92,1346.17 1782.73,1346.20 1783.55,1346.22 1784.36,1346.24 1785.17,1346.26 1785.99,1346.28 1786.80,1346.31 1787.62,1346.33 1788.43,1346.35 1789.24,1346.37 1790.06,1346.39 1790.87,1346.42 1791.68,1346.44 1792.50,1346.46 1793.31,1346.48 1794.12,1346.50 1794.94,1346.52 1795.75,1346.54 1796.57,1346.56 1797.38,1346.58 1798.19,1346.60 1799.01,1346.62 1799.82,1346.64 1800.64,1346.66 1801.45,1346.68 1802.26,1346.70 1803.08,1346.72 1803.89,1346.74 1804.70,1346.76 1805.52,1346.78 1806.33,1346.80 1807.14,1346.82 1807.96,1346.84 1808.77,1346.86 1809.59,1346.88 1810.40,1346.90 1811.21,1346.92 1812.03,1346.93 1812.84,1346.95 1813.66,1346.97 1814.47,1346.99 1815.28,1347.01 1816.10,1347.03 1816.91,1347.04 1817.72,1347.06 1818.54,1347.08 1819.35,1347.10 1820.16,1347.11 1820.98,1347.13 1821.79,1347.15 1822.61,1347.16 1823.42,1347.18 1824.23,1347.20 1825.05,1347.21 1825.86,1347.23 1826.68,1347.25 1827.49,1347.26 1828.30,1347.28 1829.12,1347.29 1829.93,1347.31 1830.74,1347.33 1831.56,1347.34 1832.37,1347.36 1833.18,1347.37 1834.00,1347.39 1834.81,1347.40 1835.63,1347.42 1836.44,1347.43 1837.25,1347.45 1838.07,1347.46 1838.88,1347.47 1839.69,1347.49 1840.51,1347.50 1841.32,1347.51 1842.14,1347.53 1842.95,1347.54 1843.76,1347.55 1844.58,1347.57 1845.39,1347.58 1846.21,1347.59 1847.02,1347.61 1847.83,1347.62 1848.65,1347.63 1849.46,1347.64 1850.27,1347.65 1851.09,1347.67 1851.90,1347.68 1852.71,1347.69 1853.53,1347.70 1854.34,1347.71 1855.16,1347.72 1855.97,1347.73 1856.78,1347.74 1857.60,1347.76 1858.41,1347.77 1859.22,1347.78 1860.04,1347.79 1860.85,1347.80 1861.67,1347.81 1862.48,1347.81 1863.29,1347.82 1864.11,1347.83 1864.92,1347.84 1865.73,1347.85 1866.55,1347.86 1867.36,1347.87 1868.18,1347.88 1868.99,1347.88 1869.80,1347.89 1870.62,1347.90 1871.43,1347.91 1872.25,1347.91 1873.06,1347.92 1873.87,1347.93 1874.69,1347.94 1875.50,1347.94" fill="none" stroke="#e0415a" stroke-width="4.5" stroke-linejoin="round"/>
<polygon points="248.0,1337.0 263.5,1354.5 248.0,1372.0 232.5,1354.5" fill="#f5333a"/>
<polygon points="410.8,522.6 426.2,540.1 410.8,557.6 395.2,540.1" fill="#f5333a"/>
<polygon points="573.5,1323.2 589.0,1340.7 573.5,1358.2 558.0,1340.7" fill="#f5333a"/>
<polygon points="736.2,1322.6 751.8,1340.1 736.2,1357.6 720.8,1340.1" fill="#f5333a"/>
<polygon points="899.0,1328.5 914.5,1346.0 899.0,1363.5 883.5,1346.0" fill="#f5333a"/>
<polygon points="1061.8,1333.7 1077.2,1351.2 1061.8,1368.7 1046.2,1351.2" fill="#f5333a"/>
<polygon points="1224.5,1333.7 1240.0,1351.2 1224.5,1368.7 1209.0,1351.2" fill="#f5333a"/>
<polygon points="1387.2,1334.4 1402.8,1351.9 1387.2,1369.4 1371.8,1351.9" fill="#f5333a"/>
<polygon points="1550.0,1317.3 1565.5,1334.8 1550.0,1352.3 1534.5,1334.8" fill="#f5333a"/>
<polygon points="1712.8,1326.5 1728.2,1344.0 1712.8,1361.5 1697.2,1344.0" fill="#f5333a"/>
<polygon points="1875.5,1330.4 1891.0,1347.9 1875.5,1365.4 1860.0,1347.9" fill="#f5333a"/>
<polyline points="248.00,1354.50 248.81,1345.49 249.63,1336.52 250.44,1327.59 251.25,1318.71 252.07,1309.88 252.88,1301.09 253.70,1292.34 254.51,1283.63 255.32,1274.97 256.14,1266.36 256.95,1257.79 257.76,1249.26 258.58,1240.78 259.39,1232.34 260.21,1223.94 261.02,1215.59 261.83,1207.29 262.65,1199.03 263.46,1190.81 264.27,1182.64 265.09,1174.51 265.90,1166.42 266.72,1158.38 267.53,1150.39 268.34,1142.43 269.16,1134.53 269.97,1126.66 270.79,1118.85 271.60,1111.07 272.41,1103.34 273.23,1095.66 274.04,1088.02 274.85,1080.42 275.67,1072.87 276.48,1065.36 277.30,1057.90 278.11,1050.48 278.92,1043.10 279.74,1035.77 280.55,1028.49 281.36,1021.25 282.18,1014.05 282.99,1006.90 283.81,999.79 284.62,992.73 285.43,985.71 286.25,978.74 287.06,971.81 287.87,964.92 288.69,958.08 289.50,951.29 290.31,944.54 291.13,937.83 291.94,931.17 292.76,924.55 293.57,917.98 294.38,911.46 295.20,904.97 296.01,898.54 296.82,892.14 297.64,885.79 298.45,879.49 299.27,873.23 300.08,867.02 300.89,860.85 301.71,854.72 302.52,848.64 303.33,842.61 304.15,836.62 304.96,830.67 305.78,824.77 306.59,818.92 307.40,813.11 308.22,807.34 309.03,801.62 309.85,795.94 310.66,790.31 311.47,784.73 312.29,779.19 313.10,773.69 313.91,768.24 314.73,762.83 315.54,757.47 316.36,752.15 317.17,746.88 317.98,741.66 318.80,736.47 319.61,731.34 320.42,726.25 321.24,721.20 322.05,716.20 322.87,711.24 323.68,706.33 324.49,701.47 325.31,696.64 326.12,691.87 326.93,687.14 327.75,682.45 328.56,677.81 329.38,673.22 330.19,668.67 331.00,664.16 331.82,659.70 332.63,655.29 333.44,650.92 334.26,646.59 335.07,642.32 335.88,638.08 336.70,633.89 337.51,629.75 338.33,625.65 339.14,621.60 339.95,617.59 340.77,613.63 341.58,609.72 342.39,605.84 343.21,602.02 344.02,598.24 344.84,594.50 345.65,590.81 346.46,587.17 347.28,583.57 348.09,580.02 348.90,576.51 349.72,573.05 350.53,569.63 351.35,566.26 352.16,562.93 352.97,559.65 353.79,556.42 354.60,553.23 355.42,550.08 356.23,546.98 357.04,543.93 357.86,540.92 358.67,537.96 359.48,535.04 360.30,532.17 361.11,529.35 361.93,526.57 362.74,523.83 363.55,521.15 364.37,518.50 365.18,515.91 365.99,513.35 366.81,510.85 367.62,508.39 368.44,505.97 369.25,503.61 370.06,501.28 370.88,499.00 371.69,496.77 372.50,494.59 373.32,492.45 374.13,490.35 374.94,488.30 375.76,486.30 376.57,484.35 377.39,482.43 378.20,480.57 379.01,478.75 379.83,476.98 380.64,475.25 381.46,473.57 382.27,471.93 383.08,470.34 383.90,468.80 384.71,467.30 385.52,465.85 386.34,464.44 387.15,463.08 387.97,461.76 388.78,460.50 389.59,459.27 390.41,458.10 391.22,456.97 392.03,455.88 392.85,454.84 393.66,453.85 394.48,452.90 395.29,452.00 396.10,451.15 396.92,450.34 397.73,449.58 398.54,448.86 399.36,448.19 400.17,447.57 400.99,446.99 401.80,446.46 402.61,445.98 403.43,445.54 404.24,445.14 405.05,444.80 405.87,444.50 406.68,444.24 407.50,444.03 408.31,443.87 409.12,443.76 409.94,443.69 410.75,443.66 411.56,443.73 412.38,443.92 413.19,444.25 414.00,444.70 414.82,445.28 415.63,445.98 416.45,446.80 417.26,447.75 418.07,448.82 418.89,450.01 419.70,451.31 420.51,452.74 421.33,454.27 422.14,455.93 422.96,457.69 423.77,459.57 424.58,461.55 425.40,463.65 426.21,465.86 427.03,468.17 427.84,470.58 428.65,473.10 429.47,475.72 430.28,478.44 431.09,481.27 431.91,484.19 432.72,487.21 433.54,490.32 434.35,493.53 435.16,496.83 435.98,500.23 436.79,503.71 437.60,507.29 438.42,510.95 439.23,514.70 440.04,518.53 440.86,522.45 441.67,526.45 442.49,530.54 443.30,534.70 444.11,538.94 444.93,543.26 445.74,547.66 446.56,552.13 447.37,556.67 448.18,561.29 449.00,565.98 449.81,570.74 450.62,575.56 451.44,580.46 452.25,585.42 453.06,590.44 453.88,595.53 454.69,600.68 455.51,605.89 456.32,611.16 457.13,616.49 457.95,621.87 458.76,627.31 459.57,632.80 460.39,638.35 461.20,643.95 462.02,649.60 462.83,655.29 463.64,661.04 464.46,666.83 465.27,672.66 466.08,678.54 466.90,684.47 467.71,690.43 468.53,696.43 469.34,702.47 470.15,708.55 470.97,714.66 471.78,720.81 472.60,726.99 473.41,733.21 474.22,739.45 475.04,745.72 475.85,752.02 476.66,758.35 477.48,764.70 478.29,771.08 479.10,777.48 479.92,783.90 480.73,790.34 481.55,796.80 482.36,803.28 483.17,809.77 483.99,816.28 484.80,822.80 485.62,829.34 486.43,835.88 487.24,842.44 488.06,849.00 488.87,855.57 489.68,862.15 490.50,868.73 491.31,875.31 492.12,881.90 492.94,888.48 493.75,895.07 494.57,901.65 495.38,908.23 496.19,914.80 497.01,921.37 497.82,927.93 498.63,934.48 499.45,941.03 500.26,947.56 501.08,954.08 501.89,960.58 502.70,967.07 503.52,973.54 504.33,980.00 505.15,986.44 505.96,992.85 506.77,999.24 507.59,1005.62 508.40,1011.96 509.21,1018.28 510.03,1024.58 510.84,1030.84 511.66,1037.08 512.47,1043.28 513.28,1049.46 514.10,1055.60 514.91,1061.70 515.72,1067.77 516.54,1073.80 517.35,1079.79 518.16,1085.74 518.98,1091.66 519.79,1097.52 520.61,1103.35 521.42,1109.13 522.23,1114.86 523.05,1120.54 523.86,1126.18 524.67,1131.76 525.49,1137.30 526.30,1142.78 527.12,1148.20 527.93,1153.57 528.74,1158.89 529.56,1164.14 530.37,1169.33 531.18,1174.47 532.00,1179.54 532.81,1184.55 533.63,1189.49 534.44,1194.37 535.25,1199.18 536.07,1203.92 536.88,1208.59 537.69,1213.19 538.51,1217.71 539.32,1222.17 540.14,1226.54 540.95,1230.84 541.76,1235.07 542.58,1239.21 543.39,1243.27 544.21,1247.25 545.02,1251.15 545.83,1254.96 546.65,1258.69 547.46,1262.33 548.27,1265.88 549.09,1269.34 549.90,1272.71 550.72,1275.99 551.53,1279.18 552.34,1282.27 553.16,1285.26 553.97,1288.16 554.78,1290.95 555.60,1293.65 556.41,1296.25 557.23,1298.74 558.04,1301.13 558.85,1303.41 559.67,1305.59 560.48,1307.65 561.29,1309.61 562.11,1311.46 562.92,1313.20 563.74,1314.82 564.55,1316.33 565.36,1317.72 566.18,1319.00 566.99,1320.16 567.80,1321.19 568.62,1322.11 569.43,1322.90 570.25,1323.57 571.06,1324.12 571.87,1324.54 572.69,1324.83 573.50,1324.99 574.31,1325.09 575.13,1325.18 575.94,1325.28 576.75,1325.37 577.57,1325.47 578.38,1325.56 579.20,1325.65 580.01,1325.74 580.82,1325.83 581.64,1325.92 582.45,1326.01 583.26,1326.10 584.08,1326.19 584.89,1326.27 585.71,1326.36 586.52,1326.44 587.33,1326.53 588.15,1326.61 588.96,1326.69 589.77,1326.78 590.59,1326.86 591.40,1326.94 592.22,1327.02 593.03,1327.10 593.84,1327.17 594.66,1327.25 595.47,1327.33 596.29,1327.41 597.10,1327.48 597.91,1327.56 598.73,1327.63 599.54,1327.70 600.35,1327.78 601.17,1327.85 601.98,1327.92 602.80,1327.99 603.61,1328.06 604.42,1328.13 605.24,1328.20 606.05,1328.27 606.86,1328.34 607.68,1328.40 608.49,1328.47 609.31,1328.54 610.12,1328.60 610.93,1328.67 611.75,1328.73 612.56,1328.79 613.37,1328.86 614.19,1328.92 615.00,1328.98 615.82,1329.04 616.63,1329.10 617.44,1329.16 618.26,1329.22 619.07,1329.28 619.88,1329.34 620.70,1329.40 621.51,1329.45 622.33,1329.51 623.14,1329.57 623.95,1329.62 624.77,1329.68 625.58,1329.73 626.39,1329.79 627.21,1329.84 628.02,1329.89 628.84,1329.95 629.65,1330.00 630.46,1330.05 631.28,1330.10 632.09,1330.15 632.90,1330.21 633.72,1330.26 634.53,1330.31 635.35,1330.35 636.16,1330.40 636.97,1330.45 637.79,1330.50 638.60,1330.55 639.41,1330.59 640.23,1330.64 641.04,1330.69 641.86,1330.73 642.67,1330.78 643.48,1330.82 644.30,1330.87 645.11,1330.91 645.92,1330.96 646.74,1331.00 647.55,1331.04 648.37,1331.09 649.18,1331.13 649.99,1331.17 650.81,1331.21 651.62,1331.26 652.43,1331.30 653.25,1331.34 654.06,1331.38 654.88,1331.42 655.69,1331.46 656.50,1331.50 657.32,1331.54 658.13,1331.58 658.94,1331.62 659.76,1331.66 660.57,1331.69 661.38,1331.73 662.20,1331.77 663.01,1331.81 663.83,1331.84 664.64,1331.88 665.45,1331.92 666.27,1331.96 667.08,1331.99 667.89,1332.03 668.71,1332.06 669.52,1332.10 670.34,1332.14 671.15,1332.17 671.96,1332.21 672.78,1332.24 673.59,1332.28 674.40,1332.31 675.22,1332.34 676.03,1332.38 676.85,1332.41 677.66,1332.45 678.47,1332.48 679.29,1332.51 680.10,1332.55 680.92,1332.58 681.73,1332.61 682.54,1332.65 683.36,1332.68 684.17,1332.71 684.98,1332.75 685.80,1332.78 686.61,1332.81 687.42,1332.84 688.24,1332.88 689.05,1332.91 689.87,1332.94 690.68,1332.97 691.49,1333.01 692.31,1333.04 693.12,1333.07 693.94,1333.10 694.75,1333.13 695.56,1333.17 696.38,1333.20 697.19,1333.23 698.00,1333.26 698.82,1333.29 699.63,1333.32 700.45,1333.36 701.26,1333.39 702.07,1333.42 702.89,1333.45 703.70,1333.48 704.51,1333.51 705.33,1333.55 706.14,1333.58 706.96,1333.61 707.77,1333.64 708.58,1333.67 709.40,1333.71 710.21,1333.74 711.02,1333.77 711.84,1333.80 712.65,1333.83 713.46,1333.87 714.28,1333.90 715.09,1333.93 715.91,1333.96 716.72,1334.00 717.53,1334.03 718.35,1334.06 719.16,1334.10 719.98,1334.13 720.79,1334.16 721.60,1334.20 722.42,1334.23 723.23,1334.26 724.04,1334.30 724.86,1334.33 725.67,1334.37 726.49,1334.40 727.30,1334.43 728.11,1334.47 728.93,1334.50 729.74,1334.54 730.55,1334.57 731.37,1334.61 732.18,1334.65 733.00,1334.68 733.81,1334.72 734.62,1334.75 735.44,1334.79 736.25,1334.83 737.06,1334.86 737.88,1334.90 738.69,1334.94 739.50,1334.97 740.32,1335.01 741.13,1335.05 741.95,1335.08 742.76,1335.12 743.57,1335.15 744.39,1335.19 745.20,1335.22 746.01,1335.26 746.83,1335.29 747.64,1335.33 748.46,1335.36 749.27,1335.40 750.08,1335.43 750.90,1335.46 751.71,1335.50 752.52,1335.53 753.34,1335.57 754.15,1335.60 754.97,1335.63 755.78,1335.67 756.59,1335.70 757.41,1335.73 758.22,1335.76 759.04,1335.80 759.85,1335.83 760.66,1335.86 761.48,1335.89 762.29,1335.93 763.10,1335.96 763.92,1335.99 764.73,1336.02 765.54,1336.05 766.36,1336.08 767.17,1336.12 767.99,1336.15 768.80,1336.18 769.61,1336.21 770.43,1336.24 771.24,1336.27 772.06,1336.30 772.87,1336.33 773.68,1336.36 774.50,1336.39 775.31,1336.42 776.12,1336.45 776.94,1336.48 777.75,1336.51 778.57,1336.54 779.38,1336.57 780.19,1336.60 781.01,1336.63 781.82,1336.66 782.63,1336.69 783.45,1336.72 784.26,1336.75 785.08,1336.78 785.89,1336.81 786.70,1336.84 787.52,1336.86 788.33,1336.89 789.14,1336.92 789.96,1336.95 790.77,1336.98 791.58,1337.01 792.40,1337.04 793.21,1337.06 794.03,1337.09 794.84,1337.12 795.65,1337.15 796.47,1337.18 797.28,1337.20 798.10,1337.23 798.91,1337.26 799.72,1337.29 800.54,1337.32 801.35,1337.34 802.16,1337.37 802.98,1337.40 803.79,1337.43 804.61,1337.45 805.42,1337.48 806.23,1337.51 807.05,1337.54 807.86,1337.56 808.67,1337.59 809.49,1337.62 810.30,1337.65 811.12,1337.67 811.93,1337.70 812.74,1337.73 813.56,1337.75 814.37,1337.78 815.18,1337.81 816.00,1337.84 816.81,1337.86 817.62,1337.89 818.44,1337.92 819.25,1337.94 820.07,1337.97 820.88,1338.00 821.69,1338.02 822.51,1338.05 823.32,1338.08 824.13,1338.10 824.95,1338.13 825.76,1338.16 826.58,1338.18 827.39,1338.21 828.20,1338.24 829.02,1338.26 829.83,1338.29 830.64,1338.32 831.46,1338.34 832.27,1338.37 833.09,1338.40 833.90,1338.43 834.71,1338.45 835.53,1338.48 836.34,1338.51 837.15,1338.53 837.97,1338.56 838.78,1338.59 839.60,1338.61 840.41,1338.64 841.22,1338.67 842.04,1338.69 842.85,1338.72 843.67,1338.75 844.48,1338.77 845.29,1338.80 846.11,1338.83 846.92,1338.86 847.73,1338.88 848.55,1338.91 849.36,1338.94 850.17,1338.96 850.99,1338.99 851.80,1339.02 852.62,1339.05 853.43,1339.07 854.24,1339.10 855.06,1339.13 855.87,1339.16 856.69,1339.18 857.50,1339.21 858.31,1339.24 859.13,1339.27 859.94,1339.30 860.75,1339.32 861.57,1339.35 862.38,1339.38 863.20,1339.41 864.01,1339.44 864.82,1339.46 865.64,1339.49 866.45,1339.52 867.26,1339.55 868.08,1339.58 868.89,1339.61 869.71,1339.63 870.52,1339.66 871.33,1339.69 872.15,1339.72 872.96,1339.75 873.77,1339.78 874.59,1339.81 875.40,1339.84 876.21,1339.87 877.03,1339.90 877.84,1339.93 878.66,1339.96 879.47,1339.98 880.28,1340.01 881.10,1340.04 881.91,1340.07 882.73,1340.10 883.54,1340.13 884.35,1340.16 885.17,1340.20 885.98,1340.23 886.79,1340.26 887.61,1340.29 888.42,1340.32 889.24,1340.35 890.05,1340.38 890.86,1340.41 891.68,1340.44 892.49,1340.47 893.30,1340.51 894.12,1340.54 894.93,1340.57 895.75,1340.60 896.56,1340.63 897.37,1340.66 898.19,1340.70 899.00,1340.73 899.81,1340.76 900.63,1340.80 901.44,1340.83 902.26,1340.86 903.07,1340.90 903.88,1340.93 904.70,1340.97 905.51,1341.00 906.32,1341.04 907.14,1341.07 907.95,1341.11 908.77,1341.15 909.58,1341.19 910.39,1341.22 911.21,1341.26 912.02,1341.30 912.83,1341.34 913.65,1341.38 914.46,1341.42 915.27,1341.46 916.09,1341.50 916.90,1341.54 917.72,1341.58 918.53,1341.62 919.34,1341.66 920.16,1341.70 920.97,1341.74 921.78,1341.79 922.60,1341.83 923.41,1341.87 924.23,1341.91 925.04,1341.96 925.85,1342.00 926.67,1342.04 927.48,1342.09 928.29,1342.13 929.11,1342.18 929.92,1342.22 930.74,1342.27 931.55,1342.31 932.36,1342.36 933.18,1342.40 933.99,1342.45 934.80,1342.49 935.62,1342.54 936.43,1342.58 937.25,1342.63 938.06,1342.68 938.87,1342.72 939.69,1342.77 940.50,1342.82 941.31,1342.86 942.13,1342.91 942.94,1342.96 943.76,1343.00 944.57,1343.05 945.38,1343.10 946.20,1343.15 947.01,1343.19 947.83,1343.24 948.64,1343.29 949.45,1343.34 950.27,1343.39 951.08,1343.43 951.89,1343.48 952.71,1343.53 953.52,1343.58 954.33,1343.63 955.15,1343.67 955.96,1343.72 956.78,1343.77 957.59,1343.82 958.40,1343.87 959.22,1343.91 960.03,1343.96 960.85,1344.01 961.66,1344.06 962.47,1344.11 963.29,1344.16 964.10,1344.20 964.91,1344.25 965.73,1344.30 966.54,1344.35 967.36,1344.39 968.17,1344.44 968.98,1344.49 969.80,1344.54 970.61,1344.59 971.42,1344.63 972.24,1344.68 973.05,1344.73 973.87,1344.77 974.68,1344.82 975.49,1344.87 976.31,1344.92 977.12,1344.96 977.93,1345.01 978.75,1345.06 979.56,1345.10 980.38,1345.15 981.19,1345.19 982.00,1345.24 982.82,1345.28 983.63,1345.33 984.44,1345.38 985.26,1345.42 986.07,1345.46 986.88,1345.51 987.70,1345.55 988.51,1345.60 989.33,1345.64 990.14,1345.69 990.95,1345.73 991.77,1345.77 992.58,1345.82 993.39,1345.86 994.21,1345.90 995.02,1345.94 995.84,1345.98 996.65,1346.03 997.46,1346.07 998.28,1346.11 999.09,1346.15 999.90,1346.19 1000.72,1346.23 1001.53,1346.27 1002.35,1346.31 1003.16,1346.35 1003.97,1346.39 1004.79,1346.43 1005.60,1346.47 1006.42,1346.50 1007.23,1346.54 1008.04,1346.58 1008.86,1346.61 1009.67,1346.65 1010.48,1346.69 1011.30,1346.72 1012.11,1346.76 1012.92,1346.79 1013.74,1346.83 1014.55,1346.86 1015.37,1346.90 1016.18,1346.93 1016.99,1346.96 1017.81,1346.99 1018.62,1347.03 1019.44,1347.06 1020.25,1347.09 1021.06,1347.12 1021.88,1347.15 1022.69,1347.18 1023.50,1347.21 1024.32,1347.24 1025.13,1347.27 1025.95,1347.29 1026.76,1347.32 1027.57,1347.35 1028.39,1347.37 1029.20,1347.40 1030.01,1347.43 1030.83,1347.45 1031.64,1347.47 1032.45,1347.50 1033.27,1347.52 1034.08,1347.54 1034.90,1347.57 1035.71,1347.59 1036.52,1347.61 1037.34,1347.63 1038.15,1347.65 1038.97,1347.67 1039.78,1347.69 1040.59,1347.70 1041.41,1347.72 1042.22,1347.74 1043.03,1347.75 1043.85,1347.77 1044.66,1347.78 1045.48,1347.80 1046.29,1347.81 1047.10,1347.83 1047.92,1347.84 1048.73,1347.85 1049.54,1347.86 1050.36,1347.87 1051.17,1347.88 1051.99,1347.89 1052.80,1347.90 1053.61,1347.91 1054.43,1347.91 1055.24,1347.92 1056.05,1347.92 1056.87,1347.93 1057.68,1347.93 1058.50,1347.94 1059.31,1347.94 1060.12,1347.94 1060.94,1347.94 1061.75,1347.94 1062.56,1347.94 1063.38,1347.94 1064.19,1347.94 1065.01,1347.94 1065.82,1347.94 1066.63,1347.94 1067.45,1347.94 1068.26,1347.94 1069.07,1347.94 1069.89,1347.94 1070.70,1347.94 1071.52,1347.94 1072.33,1347.93 1073.14,1347.93 1073.96,1347.93 1074.77,1347.93 1075.58,1347.93 1076.40,1347.93 1077.21,1347.93 1078.03,1347.92 1078.84,1347.92 1079.65,1347.92 1080.47,1347.92 1081.28,1347.92 1082.09,1347.91 1082.91,1347.91 1083.72,1347.91 1084.54,1347.91 1085.35,1347.91 1086.16,1347.90 1086.98,1347.90 1087.79,1347.90 1088.60,1347.89 1089.42,1347.89 1090.23,1347.89 1091.04,1347.89 1091.86,1347.88 1092.67,1347.88 1093.49,1347.88 1094.30,1347.87 1095.11,1347.87 1095.93,1347.87 1096.74,1347.86 1097.55,1347.86 1098.37,1347.86 1099.18,1347.85 1100.00,1347.85 1100.81,1347.85 1101.62,1347.84 1102.44,1347.84 1103.25,1347.84 1104.07,1347.83 1104.88,1347.83 1105.69,1347.82 1106.51,1347.82 1107.32,1347.82 1108.13,1347.81 1108.95,1347.81 1109.76,1347.80 1110.58,1347.80 1111.39,1347.80 1112.20,1347.79 1113.02,1347.79 1113.83,1347.78 1114.64,1347.78 1115.46,1347.78 1116.27,1347.77 1117.09,1347.77 1117.90,1347.76 1118.71,1347.76 1119.53,1347.75 1120.34,1347.75 1121.15,1347.74 1121.97,1347.74 1122.78,1347.74 1123.60,1347.73 1124.41,1347.73 1125.22,1347.72 1126.04,1347.72 1126.85,1347.71 1127.66,1347.71 1128.48,1347.70 1129.29,1347.70 1130.11,1347.69 1130.92,1347.69 1131.73,1347.68 1132.55,1347.68 1133.36,1347.67 1134.17,1347.67 1134.99,1347.66 1135.80,1347.66 1136.62,1347.65 1137.43,1347.65 1138.24,1347.64 1139.06,1347.64 1139.87,1347.63 1140.68,1347.63 1141.50,1347.62 1142.31,1347.62 1143.12,1347.61 1143.94,1347.61 1144.75,1347.60 1145.57,1347.60 1146.38,1347.59 1147.19,1347.59 1148.01,1347.59 1148.82,1347.58 1149.63,1347.58 1150.45,1347.57 1151.26,1347.57 1152.08,1347.56 1152.89,1347.56 1153.70,1347.55 1154.52,1347.55 1155.33,1347.54 1156.14,1347.54 1156.96,1347.53 1157.77,1347.53 1158.59,1347.52 1159.40,1347.52 1160.21,1347.51 1161.03,1347.51 1161.84,1347.50 1162.65,1347.50 1163.47,1347.49 1164.28,1347.49 1165.10,1347.49 1165.91,1347.48 1166.72,1347.48 1167.54,1347.47 1168.35,1347.47 1169.16,1347.46 1169.98,1347.46 1170.79,1347.45 1171.61,1347.45 1172.42,1347.45 1173.23,1347.44 1174.05,1347.44 1174.86,1347.43 1175.67,1347.43 1176.49,1347.42 1177.30,1347.42 1178.12,1347.42 1178.93,1347.41 1179.74,1347.41 1180.56,1347.40 1181.37,1347.40 1182.18,1347.40 1183.00,1347.39 1183.81,1347.39 1184.63,1347.39 1185.44,1347.38 1186.25,1347.38 1187.07,1347.37 1187.88,1347.37 1188.70,1347.37 1189.51,1347.36 1190.32,1347.36 1191.14,1347.36 1191.95,1347.35 1192.76,1347.35 1193.58,1347.35 1194.39,1347.35 1195.21,1347.34 1196.02,1347.34 1196.83,1347.34 1197.65,1347.33 1198.46,1347.33 1199.27,1347.33 1200.09,1347.33 1200.90,1347.32 1201.71,1347.32 1202.53,1347.32 1203.34,1347.32 1204.16,1347.31 1204.97,1347.31 1205.78,1347.31 1206.60,1347.31 1207.41,1347.31 1208.22,1347.31 1209.04,1347.30 1209.85,1347.30 1210.67,1347.30 1211.48,1347.30 1212.29,1347.30 1213.11,1347.30 1213.92,1347.29 1214.74,1347.29 1215.55,1347.29 1216.36,1347.29 1217.18,1347.29 1217.99,1347.29 1218.80,1347.29 1219.62,1347.29 1220.43,1347.29 1221.25,1347.29 1222.06,1347.29 1222.87,1347.29 1223.69,1347.29 1224.50,1347.29 1225.31,1347.29 1226.13,1347.29 1226.94,1347.29 1227.76,1347.29 1228.57,1347.29 1229.38,1347.29 1230.20,1347.29 1231.01,1347.29 1231.82,1347.29 1232.64,1347.29 1233.45,1347.29 1234.27,1347.29 1235.08,1347.29 1235.89,1347.29 1236.71,1347.29 1237.52,1347.29 1238.33,1347.29 1239.15,1347.29 1239.96,1347.29 1240.78,1347.29 1241.59,1347.29 1242.40,1347.29 1243.22,1347.29 1244.03,1347.29 1244.84,1347.29 1245.66,1347.29 1246.47,1347.29 1247.29,1347.29 1248.10,1347.29 1248.91,1347.29 1249.73,1347.29 1250.54,1347.29 1251.35,1347.29 1252.17,1347.29 1252.98,1347.29 1253.79,1347.29 1254.61,1347.29 1255.42,1347.29 1256.24,1347.29 1257.05,1347.29 1257.86,1347.29 1258.68,1347.29 1259.49,1347.29 1260.30,1347.29 1261.12,1347.29 1261.93,1347.29 1262.75,1347.29 1263.56,1347.29 1264.37,1347.29 1265.19,1347.29 1266.00,1347.29 1266.82,1347.29 1267.63,1347.29 1268.44,1347.29 1269.26,1347.29 1270.07,1347.29 1270.88,1347.29 1271.70,1347.29 1272.51,1347.29 1273.33,1347.29 1274.14,1347.29 1274.95,1347.29 1275.77,1347.29 1276.58,1347.29 1277.39,1347.29 1278.21,1347.29 1279.02,1347.29 1279.84,1347.29 1280.65,1347.29 1281.46,1347.29 1282.28,1347.29 1283.09,1347.29 1283.90,1347.29 1284.72,1347.29 1285.53,1347.29 1286.35,1347.29 1287.16,1347.29 1287.97,1347.29 1288.79,1347.29 1289.60,1347.29 1290.41,1347.29 1291.23,1347.29 1292.04,1347.29 1292.86,1347.29 1293.67,1347.29 1294.48,1347.29 1295.30,1347.29 1296.11,1347.29 1296.92,1347.29 1297.74,1347.29 1298.55,1347.29 1299.37,1347.29 1300.18,1347.29 1300.99,1347.29 1301.81,1347.29 1302.62,1347.29 1303.43,1347.29 1304.25,1347.29 1305.06,1347.29 1305.88,1347.29 1306.69,1347.29 1307.50,1347.29 1308.32,1347.29 1309.13,1347.29 1309.94,1347.29 1310.76,1347.29 1311.57,1347.29 1312.38,1347.29 1313.20,1347.29 1314.01,1347.29 1314.83,1347.29 1315.64,1347.29 1316.45,1347.29 1317.27,1347.29 1318.08,1347.29 1318.89,1347.29 1319.71,1347.29 1320.52,1347.29 1321.34,1347.29 1322.15,1347.29 1322.96,1347.29 1323.78,1347.29 1324.59,1347.29 1325.40,1347.29 1326.22,1347.29 1327.03,1347.29 1327.85,1347.29 1328.66,1347.29 1329.47,1347.29 1330.29,1347.29 1331.10,1347.29 1331.91,1347.29 1332.73,1347.29 1333.54,1347.29 1334.36,1347.29 1335.17,1347.29 1335.98,1347.29 1336.80,1347.29 1337.61,1347.29 1338.42,1347.29 1339.24,1347.29 1340.05,1347.29 1340.87,1347.29 1341.68,1347.29 1342.49,1347.29 1343.31,1347.29 1344.12,1347.29 1344.93,1347.29 1345.75,1347.29 1346.56,1347.29 1347.38,1347.29 1348.19,1347.29 1349.00,1347.29 1349.82,1347.29 1350.63,1347.29 1351.45,1347.29 1352.26,1347.29 1353.07,1347.29 1353.89,1347.29 1354.70,1347.29 1355.51,1347.29 1356.33,1347.29 1357.14,1347.29 1357.96,1347.29 1358.77,1347.29 1359.58,1347.29 1360.40,1347.29 1361.21,1347.29 1362.02,1347.29 1362.84,1347.29 1363.65,1347.29 1364.46,1347.29 1365.28,1347.29 1366.09,1347.29 1366.91,1347.29 1367.72,1347.29 1368.53,1347.29 1369.35,1347.29 1370.16,1347.29 1370.97,1347.29 1371.79,1347.29 1372.60,1347.29 1373.42,1347.29 1374.23,1347.29 1375.04,1347.29 1375.86,1347.29 1376.67,1347.29 1377.49,1347.29 1378.30,1347.29 1379.11,1347.29 1379.93,1347.29 1380.74,1347.29 1381.55,1347.29 1382.37,1347.29 1383.18,1347.29 1384.00,1347.29 1384.81,1347.29 1385.62,1347.29 1386.44,1347.29 1387.25,1347.29 1388.06,1347.29 1388.88,1347.28 1389.69,1347.27 1390.51,1347.26 1391.32,1347.25 1392.13,1347.23 1392.95,1347.21 1393.76,1347.19 1394.57,1347.16 1395.39,1347.13 1396.20,1347.10 1397.02,1347.07 1397.83,1347.03 1398.64,1346.99 1399.46,1346.95 1400.27,1346.91 1401.08,1346.86 1401.90,1346.81 1402.71,1346.75 1403.53,1346.70 1404.34,1346.64 1405.15,1346.58 1405.97,1346.52 1406.78,1346.45 1407.59,1346.39 1408.41,1346.32 1409.22,1346.24 1410.04,1346.17 1410.85,1346.09 1411.66,1346.01 1412.48,1345.93 1413.29,1345.85 1414.10,1345.76 1414.92,1345.67 1415.73,1345.58 1416.54,1345.49 1417.36,1345.40 1418.17,1345.30 1418.99,1345.20 1419.80,1345.10 1420.61,1345.00 1421.43,1344.90 1422.24,1344.79 1423.05,1344.69 1423.87,1344.58 1424.68,1344.47 1425.50,1344.35 1426.31,1344.24 1427.12,1344.13 1427.94,1344.01 1428.75,1343.89 1429.57,1343.77 1430.38,1343.65 1431.19,1343.52 1432.01,1343.40 1432.82,1343.27 1433.63,1343.14 1434.45,1343.02 1435.26,1342.89 1436.08,1342.75 1436.89,1342.62 1437.70,1342.49 1438.52,1342.35 1439.33,1342.22 1440.14,1342.08 1440.96,1341.94 1441.77,1341.80 1442.59,1341.66 1443.40,1341.52 1444.21,1341.37 1445.03,1341.23 1445.84,1341.09 1446.65,1340.94 1447.47,1340.79 1448.28,1340.65 1449.10,1340.50 1449.91,1340.35 1450.72,1340.20 1451.54,1340.05 1452.35,1339.90 1453.16,1339.75 1453.98,1339.60 1454.79,1339.44 1455.61,1339.29 1456.42,1339.14 1457.23,1338.98 1458.05,1338.83 1458.86,1338.67 1459.67,1338.52 1460.49,1338.36 1461.30,1338.21 1462.12,1338.05 1462.93,1337.89 1463.74,1337.74 1464.56,1337.58 1465.37,1337.42 1466.18,1337.27 1467.00,1337.11 1467.81,1336.95 1468.62,1336.79 1469.44,1336.64 1470.25,1336.48 1471.07,1336.32 1471.88,1336.17 1472.69,1336.01 1473.51,1335.85 1474.32,1335.69 1475.13,1335.54 1475.95,1335.38 1476.76,1335.23 1477.58,1335.07 1478.39,1334.92 1479.20,1334.76 1480.02,1334.61 1480.83,1334.45 1481.64,1334.30 1482.46,1334.15 1483.27,1333.99 1484.09,1333.84 1484.90,1333.69 1485.71,1333.54 1486.53,1333.39 1487.34,1333.24 1488.15,1333.09 1488.97,1332.94 1489.78,1332.80 1490.60,1332.65 1491.41,1332.50 1492.22,1332.36 1493.04,1332.21 1493.85,1332.07 1494.66,1331.93 1495.48,1331.79 1496.29,1331.65 1497.11,1331.51 1497.92,1331.37 1498.73,1331.24 1499.55,1331.10 1500.36,1330.97 1501.17,1330.84 1501.99,1330.70 1502.80,1330.57 1503.62,1330.44 1504.43,1330.32 1505.24,1330.19 1506.06,1330.07 1506.87,1329.94 1507.68,1329.82 1508.50,1329.70 1509.31,1329.58 1510.13,1329.46 1510.94,1329.35 1511.75,1329.23 1512.57,1329.12 1513.38,1329.01 1514.20,1328.90 1515.01,1328.80 1515.82,1328.69 1516.64,1328.59 1517.45,1328.49 1518.26,1328.39 1519.08,1328.29 1519.89,1328.19 1520.71,1328.10 1521.52,1328.01 1522.33,1327.92 1523.15,1327.83 1523.96,1327.74 1524.77,1327.66 1525.59,1327.58 1526.40,1327.50 1527.21,1327.42 1528.03,1327.35 1528.84,1327.27 1529.66,1327.20 1530.47,1327.14 1531.28,1327.07 1532.10,1327.01 1532.91,1326.95 1533.72,1326.89 1534.54,1326.83 1535.35,1326.78 1536.17,1326.73 1536.98,1326.68 1537.79,1326.64 1538.61,1326.60 1539.42,1326.56 1540.24,1326.52 1541.05,1326.49 1541.86,1326.45 1542.68,1326.43 1543.49,1326.40 1544.30,1326.38 1545.12,1326.36 1545.93,1326.34 1546.75,1326.33 1547.56,1326.32 1548.37,1326.31 1549.19,1326.30 1550.00,1326.30 1550.81,1326.30 1551.63,1326.31 1552.44,1326.31 1553.25,1326.31 1554.07,1326.32 1554.88,1326.33 1555.70,1326.34 1556.51,1326.35 1557.32,1326.36 1558.14,1326.37 1558.95,1326.39 1559.77,1326.40 1560.58,1326.42 1561.39,1326.44 1562.21,1326.46 1563.02,1326.48 1563.83,1326.50 1564.65,1326.52 1565.46,1326.55 1566.28,1326.57 1567.09,1326.60 1567.90,1326.63 1568.72,1326.66 1569.53,1326.69 1570.34,1326.72 1571.16,1326.75 1571.97,1326.79 1572.79,1326.82 1573.60,1326.86 1574.41,1326.90 1575.23,1326.93 1576.04,1326.97 1576.85,1327.01 1577.67,1327.05 1578.48,1327.10 1579.29,1327.14 1580.11,1327.18 1580.92,1327.23 1581.74,1327.28 1582.55,1327.32 1583.36,1327.37 1584.18,1327.42 1584.99,1327.47 1585.81,1327.52 1586.62,1327.57 1587.43,1327.63 1588.25,1327.68 1589.06,1327.74 1589.87,1327.79 1590.69,1327.85 1591.50,1327.90 1592.32,1327.96 1593.13,1328.02 1593.94,1328.08 1594.76,1328.14 1595.57,1328.20 1596.38,1328.26 1597.20,1328.33 1598.01,1328.39 1598.83,1328.45 1599.64,1328.52 1600.45,1328.58 1601.27,1328.65 1602.08,1328.72 1602.89,1328.78 1603.71,1328.85 1604.52,1328.92 1605.34,1328.99 1606.15,1329.06 1606.96,1329.13 1607.78,1329.20 1608.59,1329.27 1609.40,1329.34 1610.22,1329.42 1611.03,1329.49 1611.85,1329.56 1612.66,1329.64 1613.47,1329.71 1614.29,1329.79 1615.10,1329.86 1615.91,1329.94 1616.73,1330.02 1617.54,1330.09 1618.36,1330.17 1619.17,1330.25 1619.98,1330.33 1620.80,1330.41 1621.61,1330.48 1622.42,1330.56 1623.24,1330.64 1624.05,1330.72 1624.87,1330.80 1625.68,1330.89 1626.49,1330.97 1627.31,1331.05 1628.12,1331.13 1628.93,1331.21 1629.75,1331.29 1630.56,1331.38 1631.38,1331.46 1632.19,1331.54 1633.00,1331.62 1633.82,1331.71 1634.63,1331.79 1635.44,1331.87 1636.26,1331.96 1637.07,1332.04 1637.89,1332.13 1638.70,1332.21 1639.51,1332.29 1640.33,1332.38 1641.14,1332.46 1641.95,1332.55 1642.77,1332.63 1643.58,1332.72 1644.39,1332.80 1645.21,1332.89 1646.02,1332.97 1646.84,1333.05 1647.65,1333.14 1648.46,1333.22 1649.28,1333.31 1650.09,1333.39 1650.91,1333.48 1651.72,1333.56 1652.53,1333.65 1653.35,1333.73 1654.16,1333.81 1654.97,1333.90 1655.79,1333.98 1656.60,1334.06 1657.41,1334.15 1658.23,1334.23 1659.04,1334.31 1659.86,1334.40 1660.67,1334.48 1661.48,1334.56 1662.30,1334.64 1663.11,1334.73 1663.93,1334.81 1664.74,1334.89 1665.55,1334.97 1666.37,1335.05 1667.18,1335.13 1667.99,1335.21 1668.81,1335.29 1669.62,1335.37 1670.43,1335.45 1671.25,1335.53 1672.06,1335.61 1672.88,1335.68 1673.69,1335.76 1674.50,1335.84 1675.32,1335.92 1676.13,1335.99 1676.94,1336.07 1677.76,1336.14 1678.57,1336.22 1679.39,1336.29 1680.20,1336.37 1681.01,1336.44 1681.83,1336.51 1682.64,1336.58 1683.46,1336.66 1684.27,1336.73 1685.08,1336.80 1685.90,1336.87 1686.71,1336.94 1687.52,1337.01 1688.34,1337.07 1689.15,1337.14 1689.96,1337.21 1690.78,1337.27 1691.59,1337.34 1692.41,1337.40 1693.22,1337.47 1694.03,1337.53 1694.85,1337.59 1695.66,1337.66 1696.47,1337.72 1697.29,1337.78 1698.10,1337.84 1698.92,1337.90 1699.73,1337.95 1700.54,1338.01 1701.36,1338.07 1702.17,1338.12 1702.98,1338.18 1703.80,1338.23 1704.61,1338.28 1705.43,1338.34 1706.24,1338.39 1707.05,1338.44 1707.87,1338.49 1708.68,1338.53 1709.50,1338.58 1710.31,1338.63 1711.12,1338.67 1711.94,1338.72 1712.75,1338.76 1713.56,1338.80 1714.38,1338.85 1715.19,1338.89 1716.00,1338.93 1716.82,1338.98 1717.63,1339.02 1718.45,1339.06 1719.26,1339.10 1720.07,1339.15 1720.89,1339.19 1721.70,1339.23 1722.52,1339.27 1723.33,1339.32 1724.14,1339.36 1724.96,1339.40 1725.77,1339.44 1726.58,1339.48 1727.40,1339.53 1728.21,1339.57 1729.03,1339.61 1729.84,1339.65 1730.65,1339.69 1731.47,1339.73 1732.28,1339.78 1733.09,1339.82 1733.91,1339.86 1734.72,1339.90 1735.54,1339.94 1736.35,1339.98 1737.16,1340.02 1737.98,1340.06 1738.79,1340.10 1739.60,1340.15 1740.42,1340.19 1741.23,1340.23 1742.04,1340.27 1742.86,1340.31 1743.67,1340.35 1744.49,1340.39 1745.30,1340.43 1746.11,1340.47 1746.93,1340.51 1747.74,1340.55 1748.56,1340.59 1749.37,1340.63 1750.18,1340.67 1751.00,1340.71 1751.81,1340.75 1752.62,1340.79 1753.44,1340.83 1754.25,1340.87 1755.07,1340.90 1755.88,1340.94 1756.69,1340.98 1757.51,1341.02 1758.32,1341.06 1759.13,1341.10 1759.95,1341.14 1760.76,1341.18 1761.58,1341.21 1762.39,1341.25 1763.20,1341.29 1764.02,1341.33 1764.83,1341.37 1765.64,1341.40 1766.46,1341.44 1767.27,1341.48 1768.09,1341.52 1768.90,1341.56 1769.71,1341.59 1770.53,1341.63 1771.34,1341.67 1772.15,1341.70 1772.97,1341.74 1773.78,1341.78 1774.60,1341.82 1775.41,1341.85 1776.22,1341.89 1777.04,1341.92 1777.85,1341.96 1778.66,1342.00 1779.48,1342.03 1780.29,1342.07 1781.11,1342.11 1781.92,1342.14 1782.73,1342.18 1783.55,1342.21 1784.36,1342.25 1785.17,1342.28 1785.99,1342.32 1786.80,1342.35 1787.62,1342.39 1788.43,1342.42 1789.24,1342.46 1790.06,1342.49 1790.87,1342.53 1791.68,1342.56 1792.50,1342.60 1793.31,1342.63 1794.12,1342.66 1794.94,1342.70 1795.75,1342.73 1796.57,1342.77 1797.38,1342.80 1798.19,1342.83 1799.01,1342.87 1799.82,1342.90 1800.64,1342.93 1801.45,1342.96 1802.26,1343.00 1803.08,1343.03 1803.89,1343.06 1804.70,1343.09 1805.52,1343.13 1806.33,1343.16 1807.14,1343.19 1807.96,1343.22 1808.77,1343.25 1809.59,1343.29 1810.40,1343.32 1811.21,1343.35 1812.03,1343.38 1812.84,1343.41 1813.66,1343.44 1814.47,1343.47 1815.28,1343.50 1816.10,1343.53 1816.91,1343.56 1817.72,1343.59 1818.54,1343.62 1819.35,1343.65 1820.16,1343.68 1820.98,1343.71 1821.79,1343.74 1822.61,1343.77 1823.42,1343.80 1824.23,1343.83 1825.05,1343.86 1825.86,1343.89 1826.68,1343.91 1827.49,1343.94 1828.30,1343.97 1829.12,1344.00 1829.93,1344.03 1830.74,1344.05 1831.56,1344.08 1832.37,1344.11 1833.18,1344.14 1834.00,1344.16 1834.81,1344.19 1835.63,1344.22 1836.44,1344.24 1837.25,1344.27 1838.07,1344.30 1838.88,1344.32 1839.69,1344.35 1840.51,1344.37 1841.32,1344.40 1842.14,1344.43 1842.95,1344.45 1843.76,1344.48 1844.58,1344.50 1845.39,1344.53 1846.21,1344.55 1847.02,1344.57 1847.83,1344.60 1848.65,1344.62 1849.46,1344.65 1850.27,1344.67 1851.09,1344.69 1851.90,1344.72 1852.71,1344.74 1853.53,1344.76 1854.34,1344.79 1855.16,1344.81 1855.97,1344.83 1856.78,1344.85 1857.60,1344.88 1858.41,1344.90 1859.22,1344.92 1860.04,1344.94 1860.85,1344.96 1861.67,1344.99 1862.48,1345.01 1863.29,1345.03 1864.11,1345.05 1864.92,1345.07 1865.73,1345.09 1866.55,1345.11 1867.36,1345.13 1868.18,1345.15 1868.99,1345.17 1869.80,1345.19 1870.62,1345.21 1871.43,1345.23 1872.25,1345.25 1873.06,1345.26 1873.87,1345.28 1874.69,1345.30 1875.50,1345.32" fill="none" stroke="#4a4a4a" stroke-width="4.5" stroke-linejoin="round"/>
<rect x="236.25" y="1342.75" width="23.5" height="23.5" fill="#4d4d4d"/>
<rect x="399.00" y="431.91" width="23.5" height="23.5" fill="#4d4d4d"/>
<rect x="561.75" y="1313.24" width="23.5" height="23.5" fill="#4d4d4d"/>
<rect x="724.50" y="1323.08" width="23.5" height="23.5" fill="#4d4d4d"/>
<rect x="887.25" y="1328.98" width="23.5" height="23.5" fill="#4d4d4d"/>
<rect x="1050.00" y="1336.19" width="23.5" height="23.5" fill="#4d4d4d"/>
<rect x="1212.75" y="1335.54" width="23.5" height="23.5" fill="#4d4d4d"/>
<rect x="1375.50" y="1335.54" width="23.5" height="23.5" fill="#4d4d4d"/>
<rect x="1538.25" y="1314.55" width="23.5" height="23.5" fill="#4d4d4d"/>
<rect x="1701.00" y="1327.01" width="23.5" height="23.5" fill="#4d4d4d"/>
<rect x="1863.75" y="1333.57" width="23.5" height="23.5" fill="#4d4d4d"/>
<polyline points="248.00,1354.50 248.81,1344.90 249.63,1335.35 250.44,1325.84 251.25,1316.38 252.07,1306.97 252.88,1297.60 253.70,1288.28 254.51,1279.01 255.32,1269.78 256.14,1260.61 256.95,1251.47 257.76,1242.39 258.58,1233.35 259.39,1224.36 260.21,1215.41 261.02,1206.52 261.83,1197.67 262.65,1188.86 263.46,1180.10 264.27,1171.39 265.09,1162.73 265.90,1154.12 266.72,1145.55 267.53,1137.02 268.34,1128.55 269.16,1120.12 269.97,1111.74 270.79,1103.41 271.60,1095.12 272.41,1086.88 273.23,1078.69 274.04,1070.54 274.85,1062.44 275.67,1054.39 276.48,1046.39 277.30,1038.43 278.11,1030.52 278.92,1022.66 279.74,1014.85 280.55,1007.08 281.36,999.36 282.18,991.68 282.99,984.06 283.81,976.48 284.62,968.95 285.43,961.46 286.25,954.03 287.06,946.64 287.87,939.30 288.69,932.00 289.50,924.76 290.31,917.56 291.13,910.40 291.94,903.30 292.76,896.24 293.57,889.23 294.38,882.27 295.20,875.35 296.01,868.49 296.82,861.67 297.64,854.89 298.45,848.17 299.27,841.49 300.08,834.86 300.89,828.28 301.71,821.75 302.52,815.26 303.33,808.82 304.15,802.43 304.96,796.09 305.78,789.79 306.59,783.54 307.40,777.34 308.22,771.19 309.03,765.08 309.85,759.02 310.66,753.01 311.47,747.05 312.29,741.14 313.10,735.27 313.91,729.45 314.73,723.68 315.54,717.96 316.36,712.29 317.17,706.66 317.98,701.08 318.80,695.55 319.61,690.07 320.42,684.63 321.24,679.24 322.05,673.90 322.87,668.61 323.68,663.37 324.49,658.17 325.31,653.03 326.12,647.93 326.93,642.88 327.75,637.87 328.56,632.92 329.38,628.01 330.19,623.15 331.00,618.34 331.82,613.58 332.63,608.86 333.44,604.20 334.26,599.58 335.07,595.01 335.88,590.49 336.70,586.02 337.51,581.59 338.33,577.21 339.14,572.88 339.95,568.60 340.77,564.37 341.58,560.19 342.39,556.05 343.21,551.97 344.02,547.93 344.84,543.94 345.65,540.00 346.46,536.10 347.28,532.26 348.09,528.46 348.90,524.71 349.72,521.01 350.53,517.36 351.35,513.76 352.16,510.20 352.97,506.70 353.79,503.24 354.60,499.83 355.42,496.47 356.23,493.16 357.04,489.90 357.86,486.68 358.67,483.52 359.48,480.40 360.30,477.33 361.11,474.31 361.93,471.34 362.74,468.42 363.55,465.54 364.37,462.72 365.18,459.94 365.99,457.22 366.81,454.54 367.62,451.91 368.44,449.32 369.25,446.79 370.06,444.31 370.88,441.87 371.69,439.49 372.50,437.15 373.32,434.86 374.13,432.62 374.94,430.43 375.76,428.29 376.57,426.20 377.39,424.15 378.20,422.16 379.01,420.21 379.83,418.32 380.64,416.47 381.46,414.67 382.27,412.92 383.08,411.22 383.90,409.57 384.71,407.97 385.52,406.41 386.34,404.91 387.15,403.45 387.97,402.05 388.78,400.69 389.59,399.38 390.41,398.12 391.22,396.91 392.03,395.75 392.85,394.64 393.66,393.58 394.48,392.57 395.29,391.60 396.10,390.69 396.92,389.83 397.73,389.01 398.54,388.24 399.36,387.53 400.17,386.86 400.99,386.24 401.80,385.67 402.61,385.15 403.43,384.68 404.24,384.26 405.05,383.89 405.87,383.57 406.68,383.30 407.50,383.07 408.31,382.90 409.12,382.78 409.94,382.70 410.75,382.68 411.56,382.75 412.38,382.95 413.19,383.30 414.00,383.77 414.82,384.39 415.63,385.13 416.45,386.00 417.26,387.00 418.07,388.13 418.89,389.39 419.70,390.77 420.51,392.28 421.33,393.90 422.14,395.65 422.96,397.52 423.77,399.51 424.58,401.61 425.40,403.83 426.21,406.16 427.03,408.60 427.84,411.16 428.65,413.82 429.47,416.60 430.28,419.48 431.09,422.47 431.91,425.56 432.72,428.75 433.54,432.05 434.35,435.44 435.16,438.94 435.98,442.53 436.79,446.22 437.60,450.00 438.42,453.87 439.23,457.84 440.04,461.90 440.86,466.04 441.67,470.28 442.49,474.60 443.30,479.01 444.11,483.49 444.93,488.07 445.74,492.72 446.56,497.45 447.37,502.26 448.18,507.15 449.00,512.11 449.81,517.14 450.62,522.25 451.44,527.43 452.25,532.68 453.06,538.00 453.88,543.38 454.69,548.83 455.51,554.34 456.32,559.92 457.13,565.56 457.95,571.26 458.76,577.01 459.57,582.83 460.39,588.70 461.20,594.62 462.02,600.60 462.83,606.63 463.64,612.71 464.46,618.84 465.27,625.01 466.08,631.24 466.90,637.50 467.71,643.82 468.53,650.17 469.34,656.56 470.15,663.00 470.97,669.47 471.78,675.97 472.60,682.52 473.41,689.09 474.22,695.70 475.04,702.34 475.85,709.01 476.66,715.71 477.48,722.43 478.29,729.18 479.10,735.96 479.92,742.76 480.73,749.57 481.55,756.41 482.36,763.27 483.17,770.14 483.99,777.03 484.80,783.94 485.62,790.85 486.43,797.78 487.24,804.72 488.06,811.67 488.87,818.63 489.68,825.59 490.50,832.56 491.31,839.53 492.12,846.50 492.94,853.47 493.75,860.44 494.57,867.41 495.38,874.38 496.19,881.34 497.01,888.30 497.82,895.24 498.63,902.18 499.45,909.11 500.26,916.03 501.08,922.93 501.89,929.82 502.70,936.69 503.52,943.54 504.33,950.38 505.15,957.20 505.96,963.99 506.77,970.76 507.59,977.51 508.40,984.23 509.21,990.93 510.03,997.59 510.84,1004.23 511.66,1010.84 512.47,1017.41 513.28,1023.95 514.10,1030.45 514.91,1036.92 515.72,1043.35 516.54,1049.74 517.35,1056.08 518.16,1062.39 518.98,1068.65 519.79,1074.87 520.61,1081.04 521.42,1087.16 522.23,1093.24 523.05,1099.26 523.86,1105.23 524.67,1111.15 525.49,1117.02 526.30,1122.83 527.12,1128.58 527.93,1134.27 528.74,1139.90 529.56,1145.47 530.37,1150.98 531.18,1156.42 532.00,1161.79 532.81,1167.10 533.63,1172.35 534.44,1177.52 535.25,1182.62 536.07,1187.64 536.88,1192.60 537.69,1197.48 538.51,1202.28 539.32,1207.00 540.14,1211.64 540.95,1216.20 541.76,1220.69 542.58,1225.08 543.39,1229.39 544.21,1233.62 545.02,1237.75 545.83,1241.80 546.65,1245.76 547.46,1249.63 548.27,1253.40 549.09,1257.07 549.90,1260.65 550.72,1264.14 551.53,1267.52 552.34,1270.81 553.16,1273.99 553.97,1277.07 554.78,1280.04 555.60,1282.91 556.41,1285.68 557.23,1288.33 558.04,1290.87 558.85,1293.30 559.67,1295.62 560.48,1297.83 561.29,1299.92 562.11,1301.89 562.92,1303.75 563.74,1305.48 564.55,1307.10 565.36,1308.59 566.18,1309.95 566.99,1311.20 567.80,1312.31 568.62,1313.30 569.43,1314.16 570.25,1314.89 571.06,1315.48 571.87,1315.95 572.69,1316.27 573.50,1316.47 574.31,1316.59 575.13,1316.71 575.94,1316.83 576.75,1316.95 577.57,1317.07 578.38,1317.19 579.20,1317.30 580.01,1317.42 580.82,1317.53 581.64,1317.65 582.45,1317.76 583.26,1317.87 584.08,1317.98 584.89,1318.09 585.71,1318.20 586.52,1318.31 587.33,1318.42 588.15,1318.52 588.96,1318.63 589.77,1318.74 590.59,1318.84 591.40,1318.94 592.22,1319.04 593.03,1319.15 593.84,1319.25 594.66,1319.35 595.47,1319.44 596.29,1319.54 597.10,1319.64 597.91,1319.74 598.73,1319.83 599.54,1319.93 600.35,1320.02 601.17,1320.11 601.98,1320.20 602.80,1320.30 603.61,1320.39 604.42,1320.48 605.24,1320.57 606.05,1320.65 606.86,1320.74 607.68,1320.83 608.49,1320.91 609.31,1321.00 610.12,1321.08 610.93,1321.17 611.75,1321.25 612.56,1321.33 613.37,1321.41 614.19,1321.50 615.00,1321.58 615.82,1321.66 616.63,1321.73 617.44,1321.81 618.26,1321.89 619.07,1321.97 619.88,1322.04 620.70,1322.12 621.51,1322.19 622.33,1322.27 623.14,1322.34 623.95,1322.41 624.77,1322.49 625.58,1322.56 626.39,1322.63 627.21,1322.70 628.02,1322.77 628.84,1322.84 629.65,1322.91 630.46,1322.98 631.28,1323.04 632.09,1323.11 632.90,1323.18 633.72,1323.24 634.53,1323.31 635.35,1323.37 636.16,1323.44 636.97,1323.50 637.79,1323.56 638.60,1323.62 639.41,1323.69 640.23,1323.75 641.04,1323.81 641.86,1323.87 642.67,1323.93 643.48,1323.99 644.30,1324.05 645.11,1324.10 645.92,1324.16 646.74,1324.22 647.55,1324.28 648.37,1324.33 649.18,1324.39 649.99,1324.44 650.81,1324.50 651.62,1324.55 652.43,1324.61 653.25,1324.66 654.06,1324.72 654.88,1324.77 655.69,1324.82 656.50,1324.87 657.32,1324.92 658.13,1324.98 658.94,1325.03 659.76,1325.08 660.57,1325.13 661.38,1325.18 662.20,1325.23 663.01,1325.28 663.83,1325.32 664.64,1325.37 665.45,1325.42 666.27,1325.47 667.08,1325.52 667.89,1325.56 668.71,1325.61 669.52,1325.66 670.34,1325.70 671.15,1325.75 671.96,1325.79 672.78,1325.84 673.59,1325.88 674.40,1325.93 675.22,1325.97 676.03,1326.02 676.85,1326.06 677.66,1326.10 678.47,1326.15 679.29,1326.19 680.10,1326.23 680.92,1326.27 681.73,1326.32 682.54,1326.36 683.36,1326.40 684.17,1326.44 684.98,1326.48 685.80,1326.52 686.61,1326.57 687.42,1326.61 688.24,1326.65 689.05,1326.69 689.87,1326.73 690.68,1326.77 691.49,1326.81 692.31,1326.85 693.12,1326.89 693.94,1326.93 694.75,1326.97 695.56,1327.01 696.38,1327.04 697.19,1327.08 698.00,1327.12 698.82,1327.16 699.63,1327.20 700.45,1327.24 701.26,1327.28 702.07,1327.32 702.89,1327.35 703.70,1327.39 704.51,1327.43 705.33,1327.47 706.14,1327.51 706.96,1327.54 707.77,1327.58 708.58,1327.62 709.40,1327.66 710.21,1327.70 711.02,1327.73 711.84,1327.77 712.65,1327.81 713.46,1327.85 714.28,1327.88 715.09,1327.92 715.91,1327.96 716.72,1328.00 717.53,1328.04 718.35,1328.07 719.16,1328.11 719.98,1328.15 720.79,1328.19 721.60,1328.23 722.42,1328.26 723.23,1328.30 724.04,1328.34 724.86,1328.38 725.67,1328.42 726.49,1328.46 727.30,1328.49 728.11,1328.53 728.93,1328.57 729.74,1328.61 730.55,1328.65 731.37,1328.69 732.18,1328.73 733.00,1328.77 733.81,1328.81 734.62,1328.85 735.44,1328.89 736.25,1328.93 737.06,1328.97 737.88,1329.01 738.69,1329.04 739.50,1329.08 740.32,1329.12 741.13,1329.16 741.95,1329.20 742.76,1329.24 743.57,1329.27 744.39,1329.31 745.20,1329.35 746.01,1329.39 746.83,1329.42 747.64,1329.46 748.46,1329.49 749.27,1329.53 750.08,1329.57 750.90,1329.60 751.71,1329.64 752.52,1329.67 753.34,1329.70 754.15,1329.74 754.97,1329.77 755.78,1329.81 756.59,1329.84 757.41,1329.87 758.22,1329.91 759.04,1329.94 759.85,1329.97 760.66,1330.00 761.48,1330.04 762.29,1330.07 763.10,1330.10 763.92,1330.13 764.73,1330.16 765.54,1330.19 766.36,1330.23 767.17,1330.26 767.99,1330.29 768.80,1330.32 769.61,1330.35 770.43,1330.38 771.24,1330.41 772.06,1330.44 772.87,1330.47 773.68,1330.50 774.50,1330.53 775.31,1330.55 776.12,1330.58 776.94,1330.61 777.75,1330.64 778.57,1330.67 779.38,1330.70 780.19,1330.73 781.01,1330.75 781.82,1330.78 782.63,1330.81 783.45,1330.84 784.26,1330.86 785.08,1330.89 785.89,1330.92 786.70,1330.95 787.52,1330.97 788.33,1331.00 789.14,1331.03 789.96,1331.05 790.77,1331.08 791.58,1331.11 792.40,1331.13 793.21,1331.16 794.03,1331.18 794.84,1331.21 795.65,1331.24 796.47,1331.26 797.28,1331.29 798.10,1331.31 798.91,1331.34 799.72,1331.36 800.54,1331.39 801.35,1331.42 802.16,1331.44 802.98,1331.47 803.79,1331.49 804.61,1331.52 805.42,1331.54 806.23,1331.57 807.05,1331.59 807.86,1331.62 808.67,1331.64 809.49,1331.67 810.30,1331.69 811.12,1331.72 811.93,1331.74 812.74,1331.77 813.56,1331.79 814.37,1331.81 815.18,1331.84 816.00,1331.86 816.81,1331.89 817.62,1331.91 818.44,1331.94 819.25,1331.96 820.07,1331.99 820.88,1332.01 821.69,1332.04 822.51,1332.06 823.32,1332.09 824.13,1332.11 824.95,1332.13 825.76,1332.16 826.58,1332.18 827.39,1332.21 828.20,1332.23 829.02,1332.26 829.83,1332.28 830.64,1332.31 831.46,1332.33 832.27,1332.36 833.09,1332.38 833.90,1332.41 834.71,1332.43 835.53,1332.46 836.34,1332.48 837.15,1332.51 837.97,1332.53 838.78,1332.56 839.60,1332.58 840.41,1332.61 841.22,1332.64 842.04,1332.66 842.85,1332.69 843.67,1332.71 844.48,1332.74 845.29,1332.76 846.11,1332.79 846.92,1332.82 847.73,1332.84 848.55,1332.87 849.36,1332.90 850.17,1332.92 850.99,1332.95 851.80,1332.98 852.62,1333.00 853.43,1333.03 854.24,1333.06 855.06,1333.08 855.87,1333.11 856.69,1333.14 857.50,1333.17 858.31,1333.20 859.13,1333.22 859.94,1333.25 860.75,1333.28 861.57,1333.31 862.38,1333.34 863.20,1333.37 864.01,1333.39 864.82,1333.42 865.64,1333.45 866.45,1333.48 867.26,1333.51 868.08,1333.54 868.89,1333.57 869.71,1333.60 870.52,1333.63 871.33,1333.66 872.15,1333.69 872.96,1333.72 873.77,1333.75 874.59,1333.79 875.40,1333.82 876.21,1333.85 877.03,1333.88 877.84,1333.91 878.66,1333.94 879.47,1333.98 880.28,1334.01 881.10,1334.04 881.91,1334.08 882.73,1334.11 883.54,1334.14 884.35,1334.18 885.17,1334.21 885.98,1334.24 886.79,1334.28 887.61,1334.31 888.42,1334.35 889.24,1334.38 890.05,1334.42 890.86,1334.46 891.68,1334.49 892.49,1334.53 893.30,1334.56 894.12,1334.60 894.93,1334.64 895.75,1334.68 896.56,1334.71 897.37,1334.75 898.19,1334.79 899.00,1334.83 899.81,1334.87 900.63,1334.91 901.44,1334.95 902.26,1334.99 903.07,1335.03 903.88,1335.07 904.70,1335.12 905.51,1335.16 906.32,1335.21 907.14,1335.26 907.95,1335.30 908.77,1335.35 909.58,1335.40 910.39,1335.45 911.21,1335.50 912.02,1335.55 912.83,1335.60 913.65,1335.66 914.46,1335.71 915.27,1335.76 916.09,1335.82 916.90,1335.87 917.72,1335.93 918.53,1335.99 919.34,1336.05 920.16,1336.10 920.97,1336.16 921.78,1336.22 922.60,1336.28 923.41,1336.34 924.23,1336.40 925.04,1336.46 925.85,1336.53 926.67,1336.59 927.48,1336.65 928.29,1336.72 929.11,1336.78 929.92,1336.84 930.74,1336.91 931.55,1336.97 932.36,1337.04 933.18,1337.11 933.99,1337.17 934.80,1337.24 935.62,1337.31 936.43,1337.38 937.25,1337.45 938.06,1337.52 938.87,1337.58 939.69,1337.65 940.50,1337.72 941.31,1337.80 942.13,1337.87 942.94,1337.94 943.76,1338.01 944.57,1338.08 945.38,1338.15 946.20,1338.22 947.01,1338.30 947.83,1338.37 948.64,1338.44 949.45,1338.52 950.27,1338.59 951.08,1338.66 951.89,1338.74 952.71,1338.81 953.52,1338.89 954.33,1338.96 955.15,1339.03 955.96,1339.11 956.78,1339.18 957.59,1339.26 958.40,1339.33 959.22,1339.41 960.03,1339.49 960.85,1339.56 961.66,1339.64 962.47,1339.71 963.29,1339.79 964.10,1339.86 964.91,1339.94 965.73,1340.01 966.54,1340.09 967.36,1340.17 968.17,1340.24 968.98,1340.32 969.80,1340.39 970.61,1340.47 971.42,1340.54 972.24,1340.62 973.05,1340.69 973.87,1340.77 974.68,1340.84 975.49,1340.92 976.31,1340.99 977.12,1341.07 977.93,1341.14 978.75,1341.22 979.56,1341.29 980.38,1341.37 981.19,1341.44 982.00,1341.51 982.82,1341.59 983.63,1341.66 984.44,1341.73 985.26,1341.81 986.07,1341.88 986.88,1341.95 987.70,1342.02 988.51,1342.09 989.33,1342.17 990.14,1342.24 990.95,1342.31 991.77,1342.38 992.58,1342.45 993.39,1342.52 994.21,1342.59 995.02,1342.66 995.84,1342.72 996.65,1342.79 997.46,1342.86 998.28,1342.93 999.09,1342.99 999.90,1343.06 1000.72,1343.13 1001.53,1343.19 1002.35,1343.26 1003.16,1343.32 1003.97,1343.39 1004.79,1343.45 1005.60,1343.51 1006.42,1343.57 1007.23,1343.64 1008.04,1343.70 1008.86,1343.76 1009.67,1343.82 1010.48,1343.88 1011.30,1343.94 1012.11,1344.00 1012.92,1344.05 1013.74,1344.11 1014.55,1344.17 1015.37,1344.22 1016.18,1344.28 1016.99,1344.33 1017.81,1344.39 1018.62,1344.44 1019.44,1344.49 1020.25,1344.54 1021.06,1344.60 1021.88,1344.65 1022.69,1344.69 1023.50,1344.74 1024.32,1344.79 1025.13,1344.84 1025.95,1344.89 1026.76,1344.93 1027.57,1344.98 1028.39,1345.02 1029.20,1345.06 1030.01,1345.11 1030.83,1345.15 1031.64,1345.19 1032.45,1345.23 1033.27,1345.27 1034.08,1345.30 1034.90,1345.34 1035.71,1345.38 1036.52,1345.41 1037.34,1345.45 1038.15,1345.48 1038.97,1345.51 1039.78,1345.54 1040.59,1345.57 1041.41,1345.60 1042.22,1345.63 1043.03,1345.66 1043.85,1345.68 1044.66,1345.71 1045.48,1345.73 1046.29,1345.76 1047.10,1345.78 1047.92,1345.80 1048.73,1345.82 1049.54,1345.84 1050.36,1345.85 1051.17,1345.87 1051.99,1345.89 1052.80,1345.90 1053.61,1345.91 1054.43,1345.92 1055.24,1345.94 1056.05,1345.94 1056.87,1345.95 1057.68,1345.96 1058.50,1345.97 1059.31,1345.97 1060.12,1345.97 1060.94,1345.97 1061.75,1345.98 1062.56,1345.97 1063.38,1345.97 1064.19,1345.97 1065.01,1345.97 1065.82,1345.96 1066.63,1345.96 1067.45,1345.95 1068.26,1345.95 1069.07,1345.94 1069.89,1345.93 1070.70,1345.92 1071.52,1345.91 1072.33,1345.90 1073.14,1345.89 1073.96,1345.88 1074.77,1345.87 1075.58,1345.85 1076.40,1345.84 1077.21,1345.83 1078.03,1345.81 1078.84,1345.79 1079.65,1345.78 1080.47,1345.76 1081.28,1345.74 1082.09,1345.72 1082.91,1345.70 1083.72,1345.68 1084.54,1345.66 1085.35,1345.64 1086.16,1345.62 1086.98,1345.59 1087.79,1345.57 1088.60,1345.55 1089.42,1345.52 1090.23,1345.50 1091.04,1345.47 1091.86,1345.44 1092.67,1345.42 1093.49,1345.39 1094.30,1345.36 1095.11,1345.33 1095.93,1345.30 1096.74,1345.27 1097.55,1345.24 1098.37,1345.21 1099.18,1345.18 1100.00,1345.15 1100.81,1345.12 1101.62,1345.09 1102.44,1345.05 1103.25,1345.02 1104.07,1344.99 1104.88,1344.95 1105.69,1344.92 1106.51,1344.88 1107.32,1344.85 1108.13,1344.81 1108.95,1344.77 1109.76,1344.74 1110.58,1344.70 1111.39,1344.66 1112.20,1344.63 1113.02,1344.59 1113.83,1344.55 1114.64,1344.51 1115.46,1344.47 1116.27,1344.43 1117.09,1344.39 1117.90,1344.35 1118.71,1344.31 1119.53,1344.27 1120.34,1344.23 1121.15,1344.19 1121.97,1344.15 1122.78,1344.11 1123.60,1344.07 1124.41,1344.02 1125.22,1343.98 1126.04,1343.94 1126.85,1343.90 1127.66,1343.86 1128.48,1343.81 1129.29,1343.77 1130.11,1343.73 1130.92,1343.68 1131.73,1343.64 1132.55,1343.60 1133.36,1343.55 1134.17,1343.51 1134.99,1343.47 1135.80,1343.42 1136.62,1343.38 1137.43,1343.33 1138.24,1343.29 1139.06,1343.25 1139.87,1343.20 1140.68,1343.16 1141.50,1343.11 1142.31,1343.07 1143.12,1343.02 1143.94,1342.98 1144.75,1342.94 1145.57,1342.89 1146.38,1342.85 1147.19,1342.80 1148.01,1342.76 1148.82,1342.72 1149.63,1342.67 1150.45,1342.63 1151.26,1342.58 1152.08,1342.54 1152.89,1342.50 1153.70,1342.45 1154.52,1342.41 1155.33,1342.37 1156.14,1342.32 1156.96,1342.28 1157.77,1342.24 1158.59,1342.19 1159.40,1342.15 1160.21,1342.11 1161.03,1342.07 1161.84,1342.02 1162.65,1341.98 1163.47,1341.94 1164.28,1341.90 1165.10,1341.86 1165.91,1341.82 1166.72,1341.78 1167.54,1341.74 1168.35,1341.70 1169.16,1341.66 1169.98,1341.62 1170.79,1341.58 1171.61,1341.54 1172.42,1341.50 1173.23,1341.46 1174.05,1341.42 1174.86,1341.39 1175.67,1341.35 1176.49,1341.31 1177.30,1341.27 1178.12,1341.24 1178.93,1341.20 1179.74,1341.17 1180.56,1341.13 1181.37,1341.10 1182.18,1341.06 1183.00,1341.03 1183.81,1341.00 1184.63,1340.96 1185.44,1340.93 1186.25,1340.90 1187.07,1340.87 1187.88,1340.84 1188.70,1340.80 1189.51,1340.77 1190.32,1340.74 1191.14,1340.72 1191.95,1340.69 1192.76,1340.66 1193.58,1340.63 1194.39,1340.60 1195.21,1340.58 1196.02,1340.55 1196.83,1340.53 1197.65,1340.50 1198.46,1340.48 1199.27,1340.45 1200.09,1340.43 1200.90,1340.41 1201.71,1340.39 1202.53,1340.37 1203.34,1340.35 1204.16,1340.33 1204.97,1340.31 1205.78,1340.29 1206.60,1340.27 1207.41,1340.26 1208.22,1340.24 1209.04,1340.22 1209.85,1340.21 1210.67,1340.19 1211.48,1340.18 1212.29,1340.17 1213.11,1340.16 1213.92,1340.15 1214.74,1340.13 1215.55,1340.13 1216.36,1340.12 1217.18,1340.11 1217.99,1340.10 1218.80,1340.09 1219.62,1340.09 1220.43,1340.08 1221.25,1340.08 1222.06,1340.08 1222.87,1340.08 1223.69,1340.07 1224.50,1340.07 1225.31,1340.07 1226.13,1340.07 1226.94,1340.07 1227.76,1340.08 1228.57,1340.08 1229.38,1340.08 1230.20,1340.08 1231.01,1340.08 1231.82,1340.08 1232.64,1340.08 1233.45,1340.08 1234.27,1340.09 1235.08,1340.09 1235.89,1340.09 1236.71,1340.09 1237.52,1340.10 1238.33,1340.10 1239.15,1340.10 1239.96,1340.11 1240.78,1340.11 1241.59,1340.11 1242.40,1340.12 1243.22,1340.12 1244.03,1340.13 1244.84,1340.13 1245.66,1340.13 1246.47,1340.14 1247.29,1340.14 1248.10,1340.15 1248.91,1340.15 1249.73,1340.16 1250.54,1340.16 1251.35,1340.17 1252.17,1340.17 1252.98,1340.18 1253.79,1340.19 1254.61,1340.19 1255.42,1340.20 1256.24,1340.20 1257.05,1340.21 1257.86,1340.22 1258.68,1340.22 1259.49,1340.23 1260.30,1340.24 1261.12,1340.24 1261.93,1340.25 1262.75,1340.26 1263.56,1340.26 1264.37,1340.27 1265.19,1340.28 1266.00,1340.29 1266.82,1340.29 1267.63,1340.30 1268.44,1340.31 1269.26,1340.32 1270.07,1340.32 1270.88,1340.33 1271.70,1340.34 1272.51,1340.35 1273.33,1340.36 1274.14,1340.37 1274.95,1340.37 1275.77,1340.38 1276.58,1340.39 1277.39,1340.40 1278.21,1340.41 1279.02,1340.42 1279.84,1340.43 1280.65,1340.43 1281.46,1340.44 1282.28,1340.45 1283.09,1340.46 1283.90,1340.47 1284.72,1340.48 1285.53,1340.49 1286.35,1340.50 1287.16,1340.51 1287.97,1340.52 1288.79,1340.53 1289.60,1340.54 1290.41,1340.54 1291.23,1340.55 1292.04,1340.56 1292.86,1340.57 1293.67,1340.58 1294.48,1340.59 1295.30,1340.60 1296.11,1340.61 1296.92,1340.62 1297.74,1340.63 1298.55,1340.64 1299.37,1340.65 1300.18,1340.66 1300.99,1340.67 1301.81,1340.68 1302.62,1340.69 1303.43,1340.70 1304.25,1340.71 1305.06,1340.72 1305.88,1340.73 1306.69,1340.74 1307.50,1340.75 1308.32,1340.76 1309.13,1340.77 1309.94,1340.78 1310.76,1340.79 1311.57,1340.80 1312.38,1340.81 1313.20,1340.82 1314.01,1340.83 1314.83,1340.84 1315.64,1340.85 1316.45,1340.86 1317.27,1340.87 1318.08,1340.88 1318.89,1340.89 1319.71,1340.89 1320.52,1340.90 1321.34,1340.91 1322.15,1340.92 1322.96,1340.93 1323.78,1340.94 1324.59,1340.95 1325.40,1340.96 1326.22,1340.97 1327.03,1340.98 1327.85,1340.99 1328.66,1341.00 1329.47,1341.01 1330.29,1341.02 1331.10,1341.02 1331.91,1341.03 1332.73,1341.04 1333.54,1341.05 1334.36,1341.06 1335.17,1341.07 1335.98,1341.08 1336.80,1341.09 1337.61,1341.09 1338.42,1341.10 1339.24,1341.11 1340.05,1341.12 1340.87,1341.13 1341.68,1341.13 1342.49,1341.14 1343.31,1341.15 1344.12,1341.16 1344.93,1341.17 1345.75,1341.17 1346.56,1341.18 1347.38,1341.19 1348.19,1341.19 1349.00,1341.20 1349.82,1341.21 1350.63,1341.22 1351.45,1341.22 1352.26,1341.23 1353.07,1341.24 1353.89,1341.24 1354.70,1341.25 1355.51,1341.25 1356.33,1341.26 1357.14,1341.27 1357.96,1341.27 1358.77,1341.28 1359.58,1341.28 1360.40,1341.29 1361.21,1341.30 1362.02,1341.30 1362.84,1341.31 1363.65,1341.31 1364.46,1341.32 1365.28,1341.32 1366.09,1341.32 1366.91,1341.33 1367.72,1341.33 1368.53,1341.34 1369.35,1341.34 1370.16,1341.34 1370.97,1341.35 1371.79,1341.35 1372.60,1341.36 1373.42,1341.36 1374.23,1341.36 1375.04,1341.36 1375.86,1341.37 1376.67,1341.37 1377.49,1341.37 1378.30,1341.37 1379.11,1341.38 1379.93,1341.38 1380.74,1341.38 1381.55,1341.38 1382.37,1341.38 1383.18,1341.38 1384.00,1341.38 1384.81,1341.38 1385.62,1341.38 1386.44,1341.38 1387.25,1341.38 1388.06,1341.38 1388.88,1341.38 1389.69,1341.37 1390.51,1341.36 1391.32,1341.35 1392.13,1341.33 1392.95,1341.31 1393.76,1341.29 1394.57,1341.26 1395.39,1341.23 1396.20,1341.20 1397.02,1341.17 1397.83,1341.13 1398.64,1341.09 1399.46,1341.05 1400.27,1341.00 1401.08,1340.96 1401.90,1340.91 1402.71,1340.85 1403.53,1340.80 1404.34,1340.74 1405.15,1340.68 1405.97,1340.62 1406.78,1340.55 1407.59,1340.48 1408.41,1340.41 1409.22,1340.34 1410.04,1340.27 1410.85,1340.19 1411.66,1340.11 1412.48,1340.03 1413.29,1339.95 1414.10,1339.86 1414.92,1339.77 1415.73,1339.68 1416.54,1339.59 1417.36,1339.50 1418.17,1339.40 1418.99,1339.30 1419.80,1339.20 1420.61,1339.10 1421.43,1339.00 1422.24,1338.89 1423.05,1338.78 1423.87,1338.68 1424.68,1338.57 1425.50,1338.45 1426.31,1338.34 1427.12,1338.22 1427.94,1338.11 1428.75,1337.99 1429.57,1337.87 1430.38,1337.75 1431.19,1337.62 1432.01,1337.50 1432.82,1337.37 1433.63,1337.24 1434.45,1337.11 1435.26,1336.98 1436.08,1336.85 1436.89,1336.72 1437.70,1336.59 1438.52,1336.45 1439.33,1336.31 1440.14,1336.18 1440.96,1336.04 1441.77,1335.90 1442.59,1335.76 1443.40,1335.62 1444.21,1335.47 1445.03,1335.33 1445.84,1335.18 1446.65,1335.04 1447.47,1334.89 1448.28,1334.75 1449.10,1334.60 1449.91,1334.45 1450.72,1334.30 1451.54,1334.15 1452.35,1334.00 1453.16,1333.85 1453.98,1333.70 1454.79,1333.54 1455.61,1333.39 1456.42,1333.24 1457.23,1333.08 1458.05,1332.93 1458.86,1332.77 1459.67,1332.62 1460.49,1332.46 1461.30,1332.31 1462.12,1332.15 1462.93,1331.99 1463.74,1331.84 1464.56,1331.68 1465.37,1331.52 1466.18,1331.36 1467.00,1331.21 1467.81,1331.05 1468.62,1330.89 1469.44,1330.74 1470.25,1330.58 1471.07,1330.42 1471.88,1330.26 1472.69,1330.11 1473.51,1329.95 1474.32,1329.79 1475.13,1329.64 1475.95,1329.48 1476.76,1329.32 1477.58,1329.17 1478.39,1329.01 1479.20,1328.86 1480.02,1328.70 1480.83,1328.55 1481.64,1328.40 1482.46,1328.24 1483.27,1328.09 1484.09,1327.94 1484.90,1327.79 1485.71,1327.64 1486.53,1327.49 1487.34,1327.34 1488.15,1327.19 1488.97,1327.04 1489.78,1326.89 1490.60,1326.75 1491.41,1326.60 1492.22,1326.46 1493.04,1326.31 1493.85,1326.17 1494.66,1326.03 1495.48,1325.89 1496.29,1325.75 1497.11,1325.61 1497.92,1325.47 1498.73,1325.34 1499.55,1325.20 1500.36,1325.07 1501.17,1324.93 1501.99,1324.80 1502.80,1324.67 1503.62,1324.54 1504.43,1324.42 1505.24,1324.29 1506.06,1324.16 1506.87,1324.04 1507.68,1323.92 1508.50,1323.80 1509.31,1323.68 1510.13,1323.56 1510.94,1323.45 1511.75,1323.33 1512.57,1323.22 1513.38,1323.11 1514.20,1323.00 1515.01,1322.89 1515.82,1322.79 1516.64,1322.68 1517.45,1322.58 1518.26,1322.48 1519.08,1322.39 1519.89,1322.29 1520.71,1322.20 1521.52,1322.10 1522.33,1322.01 1523.15,1321.93 1523.96,1321.84 1524.77,1321.76 1525.59,1321.68 1526.40,1321.60 1527.21,1321.52 1528.03,1321.45 1528.84,1321.37 1529.66,1321.30 1530.47,1321.23 1531.28,1321.17 1532.10,1321.11 1532.91,1321.05 1533.72,1320.99 1534.54,1320.93 1535.35,1320.88 1536.17,1320.83 1536.98,1320.78 1537.79,1320.74 1538.61,1320.70 1539.42,1320.66 1540.24,1320.62 1541.05,1320.58 1541.86,1320.55 1542.68,1320.52 1543.49,1320.50 1544.30,1320.48 1545.12,1320.46 1545.93,1320.44 1546.75,1320.43 1547.56,1320.42 1548.37,1320.41 1549.19,1320.40 1550.00,1320.40 1550.81,1320.40 1551.63,1320.40 1552.44,1320.41 1553.25,1320.41 1554.07,1320.42 1554.88,1320.43 1555.70,1320.44 1556.51,1320.45 1557.32,1320.46 1558.14,1320.48 1558.95,1320.49 1559.77,1320.51 1560.58,1320.53 1561.39,1320.55 1562.21,1320.57 1563.02,1320.59 1563.83,1320.62 1564.65,1320.64 1565.46,1320.67 1566.28,1320.70 1567.09,1320.73 1567.90,1320.76 1568.72,1320.79 1569.53,1320.82 1570.34,1320.86 1571.16,1320.89 1571.97,1320.93 1572.79,1320.97 1573.60,1321.01 1574.41,1321.05 1575.23,1321.09 1576.04,1321.13 1576.85,1321.17 1577.67,1321.22 1578.48,1321.27 1579.29,1321.31 1580.11,1321.36 1580.92,1321.41 1581.74,1321.46 1582.55,1321.51 1583.36,1321.57 1584.18,1321.62 1584.99,1321.67 1585.81,1321.73 1586.62,1321.79 1587.43,1321.84 1588.25,1321.90 1589.06,1321.96 1589.87,1322.02 1590.69,1322.08 1591.50,1322.15 1592.32,1322.21 1593.13,1322.27 1593.94,1322.34 1594.76,1322.40 1595.57,1322.47 1596.38,1322.54 1597.20,1322.61 1598.01,1322.67 1598.83,1322.74 1599.64,1322.82 1600.45,1322.89 1601.27,1322.96 1602.08,1323.03 1602.89,1323.11 1603.71,1323.18 1604.52,1323.25 1605.34,1323.33 1606.15,1323.41 1606.96,1323.48 1607.78,1323.56 1608.59,1323.64 1609.40,1323.72 1610.22,1323.80 1611.03,1323.88 1611.85,1323.96 1612.66,1324.04 1613.47,1324.12 1614.29,1324.20 1615.10,1324.29 1615.91,1324.37 1616.73,1324.45 1617.54,1324.54 1618.36,1324.62 1619.17,1324.71 1619.98,1324.79 1620.80,1324.88 1621.61,1324.97 1622.42,1325.05 1623.24,1325.14 1624.05,1325.23 1624.87,1325.32 1625.68,1325.41 1626.49,1325.49 1627.31,1325.58 1628.12,1325.67 1628.93,1325.76 1629.75,1325.85 1630.56,1325.94 1631.38,1326.03 1632.19,1326.13 1633.00,1326.22 1633.82,1326.31 1634.63,1326.40 1635.44,1326.49 1636.26,1326.58 1637.07,1326.68 1637.89,1326.77 1638.70,1326.86 1639.51,1326.95 1640.33,1327.05 1641.14,1327.14 1641.95,1327.23 1642.77,1327.32 1643.58,1327.42 1644.39,1327.51 1645.21,1327.60 1646.02,1327.70 1646.84,1327.79 1647.65,1327.88 1648.46,1327.98 1649.28,1328.07 1650.09,1328.16 1650.91,1328.25 1651.72,1328.35 1652.53,1328.44 1653.35,1328.53 1654.16,1328.63 1654.97,1328.72 1655.79,1328.81 1656.60,1328.90 1657.41,1329.00 1658.23,1329.09 1659.04,1329.18 1659.86,1329.27 1660.67,1329.36 1661.48,1329.45 1662.30,1329.54 1663.11,1329.63 1663.93,1329.73 1664.74,1329.82 1665.55,1329.91 1666.37,1329.99 1667.18,1330.08 1667.99,1330.17 1668.81,1330.26 1669.62,1330.35 1670.43,1330.44 1671.25,1330.52 1672.06,1330.61 1672.88,1330.70 1673.69,1330.78 1674.50,1330.87 1675.32,1330.96 1676.13,1331.04 1676.94,1331.12 1677.76,1331.21 1678.57,1331.29 1679.39,1331.38 1680.20,1331.46 1681.01,1331.54 1681.83,1331.62 1682.64,1331.70 1683.46,1331.78 1684.27,1331.86 1685.08,1331.94 1685.90,1332.02 1686.71,1332.10 1687.52,1332.17 1688.34,1332.25 1689.15,1332.33 1689.96,1332.40 1690.78,1332.47 1691.59,1332.55 1692.41,1332.62 1693.22,1332.69 1694.03,1332.77 1694.85,1332.84 1695.66,1332.91 1696.47,1332.97 1697.29,1333.04 1698.10,1333.11 1698.92,1333.18 1699.73,1333.24 1700.54,1333.31 1701.36,1333.37 1702.17,1333.44 1702.98,1333.50 1703.80,1333.56 1704.61,1333.62 1705.43,1333.68 1706.24,1333.74 1707.05,1333.80 1707.87,1333.85 1708.68,1333.91 1709.50,1333.96 1710.31,1334.02 1711.12,1334.07 1711.94,1334.12 1712.75,1334.17 1713.56,1334.22 1714.38,1334.27 1715.19,1334.32 1716.00,1334.37 1716.82,1334.42 1717.63,1334.47 1718.45,1334.52 1719.26,1334.57 1720.07,1334.62 1720.89,1334.67 1721.70,1334.72 1722.52,1334.77 1723.33,1334.82 1724.14,1334.87 1724.96,1334.91 1725.77,1334.96 1726.58,1335.01 1727.40,1335.06 1728.21,1335.11 1729.03,1335.16 1729.84,1335.21 1730.65,1335.26 1731.47,1335.30 1732.28,1335.35 1733.09,1335.40 1733.91,1335.45 1734.72,1335.50 1735.54,1335.55 1736.35,1335.59 1737.16,1335.64 1737.98,1335.69 1738.79,1335.74 1739.60,1335.78 1740.42,1335.83 1741.23,1335.88 1742.04,1335.93 1742.86,1335.97 1743.67,1336.02 1744.49,1336.07 1745.30,1336.11 1746.11,1336.16 1746.93,1336.21 1747.74,1336.25 1748.56,1336.30 1749.37,1336.35 1750.18,1336.39 1751.00,1336.44 1751.81,1336.49 1752.62,1336.53 1753.44,1336.58 1754.25,1336.63 1755.07,1336.67 1755.88,1336.72 1756.69,1336.76 1757.51,1336.81 1758.32,1336.85 1759.13,1336.90 1759.95,1336.94 1760.76,1336.99 1761.58,1337.03 1762.39,1337.08 1763.20,1337.12 1764.02,1337.17 1764.83,1337.21 1765.64,1337.26 1766.46,1337.30 1767.27,1337.35 1768.09,1337.39 1768.90,1337.43 1769.71,1337.48 1770.53,1337.52 1771.34,1337.57 1772.15,1337.61 1772.97,1337.65 1773.78,1337.70 1774.60,1337.74 1775.41,1337.78 1776.22,1337.83 1777.04,1337.87 1777.85,1337.91 1778.66,1337.95 1779.48,1338.00 1780.29,1338.04 1781.11,1338.08 1781.92,1338.12 1782.73,1338.17 1783.55,1338.21 1784.36,1338.25 1785.17,1338.29 1785.99,1338.33 1786.80,1338.38 1787.62,1338.42 1788.43,1338.46 1789.24,1338.50 1790.06,1338.54 1790.87,1338.58 1791.68,1338.62 1792.50,1338.66 1793.31,1338.70 1794.12,1338.74 1794.94,1338.78 1795.75,1338.82 1796.57,1338.86 1797.38,1338.90 1798.19,1338.94 1799.01,1338.98 1799.82,1339.02 1800.64,1339.06 1801.45,1339.10 1802.26,1339.14 1803.08,1339.18 1803.89,1339.22 1804.70,1339.26 1805.52,1339.30 1806.33,1339.33 1807.14,1339.37 1807.96,1339.41 1808.77,1339.45 1809.59,1339.49 1810.40,1339.52 1811.21,1339.56 1812.03,1339.60 1812.84,1339.64 1813.66,1339.67 1814.47,1339.71 1815.28,1339.75 1816.10,1339.78 1816.91,1339.82 1817.72,1339.86 1818.54,1339.89 1819.35,1339.93 1820.16,1339.97 1820.98,1340.00 1821.79,1340.04 1822.61,1340.07 1823.42,1340.11 1824.23,1340.14 1825.05,1340.18 1825.86,1340.21 1826.68,1340.25 1827.49,1340.28 1828.30,1340.32 1829.12,1340.35 1829.93,1340.39 1830.74,1340.42 1831.56,1340.45 1832.37,1340.49 1833.18,1340.52 1834.00,1340.56 1834.81,1340.59 1835.63,1340.62 1836.44,1340.66 1837.25,1340.69 1838.07,1340.72 1838.88,1340.75 1839.69,1340.79 1840.51,1340.82 1841.32,1340.85 1842.14,1340.88 1842.95,1340.91 1843.76,1340.94 1844.58,1340.98 1845.39,1341.01 1846.21,1341.04 1847.02,1341.07 1847.83,1341.10 1848.65,1341.13 1849.46,1341.16 1850.27,1341.19 1851.09,1341.22 1851.90,1341.25 1852.71,1341.28 1853.53,1341.31 1854.34,1341.34 1855.16,1341.37 1855.97,1341.40 1856.78,1341.43 1857.60,1341.46 1858.41,1341.48 1859.22,1341.51 1860.04,1341.54 1860.85,1341.57 1861.67,1341.60 1862.48,1341.62 1863.29,1341.65 1864.11,1341.68 1864.92,1341.71 1865.73,1341.73 1866.55,1341.76 1867.36,1341.79 1868.18,1341.81 1868.99,1341.84 1869.80,1341.86 1870.62,1341.89 1871.43,1341.92 1872.25,1341.94 1873.06,1341.97 1873.87,1341.99 1874.69,1342.02 1875.50,1342.04" fill="none" stroke="#2fae6c" stroke-width="4.5" stroke-linejoin="round"/>
<polygon points="231.0,1345.2 265.0,1345.2 248.0,1373.2" fill="#2bb46e"/>
<polygon points="393.8,373.3 427.8,373.3 410.8,401.3" fill="#2bb46e"/>
<polygon points="556.5,1307.1 590.5,1307.1 573.5,1335.1" fill="#2bb46e"/>
<polygon points="719.2,1319.6 753.2,1319.6 736.2,1347.6" fill="#2bb46e"/>
<polygon points="882.0,1325.5 916.0,1325.5 899.0,1353.5" fill="#2bb46e"/>
<polygon points="1044.8,1336.6 1078.8,1336.6 1061.8,1364.6" fill="#2bb46e"/>
<polygon points="1207.5,1330.7 1241.5,1330.7 1224.5,1358.7" fill="#2bb46e"/>
<polygon points="1370.2,1332.1 1404.2,1332.1 1387.2,1360.1" fill="#2bb46e"/>
<polygon points="1533.0,1311.1 1567.0,1311.1 1550.0,1339.1" fill="#2bb46e"/>
<polygon points="1695.8,1324.8 1729.8,1324.8 1712.8,1352.8" fill="#2bb46e"/>
<polygon points="1858.5,1332.7 1892.5,1332.7 1875.5,1360.7" fill="#2bb46e"/>
<polyline points="248.00,1354.50 248.81,1344.71 249.63,1334.97 250.44,1325.28 251.25,1315.63 252.07,1306.03 252.88,1296.48 253.70,1286.97 254.51,1277.52 255.32,1268.11 256.14,1258.74 256.95,1249.43 257.76,1240.16 258.58,1230.94 259.39,1221.76 260.21,1212.64 261.02,1203.56 261.83,1194.53 262.65,1185.54 263.46,1176.61 264.27,1167.72 265.09,1158.87 265.90,1150.08 266.72,1141.33 267.53,1132.63 268.34,1123.98 269.16,1115.38 269.97,1106.82 270.79,1098.31 271.60,1089.85 272.41,1081.44 273.23,1073.07 274.04,1064.76 274.85,1056.49 275.67,1048.26 276.48,1040.09 277.30,1031.96 278.11,1023.88 278.92,1015.85 279.74,1007.87 280.55,999.93 281.36,992.05 282.18,984.21 282.99,976.41 283.81,968.67 284.62,960.97 285.43,953.33 286.25,945.73 287.06,938.18 287.87,930.67 288.69,923.22 289.50,915.81 290.31,908.45 291.13,901.14 291.94,893.87 292.76,886.66 293.57,879.49 294.38,872.37 295.20,865.30 296.01,858.28 296.82,851.31 297.64,844.38 298.45,837.51 299.27,830.68 300.08,823.90 300.89,817.16 301.71,810.48 302.52,803.84 303.33,797.26 304.15,790.72 304.96,784.23 305.78,777.79 306.59,771.39 307.40,765.05 308.22,758.75 309.03,752.50 309.85,746.31 310.66,740.15 311.47,734.05 312.29,728.00 313.10,722.00 313.91,716.04 314.73,710.13 315.54,704.27 316.36,698.46 317.17,692.70 317.98,686.99 318.80,681.33 319.61,675.71 320.42,670.15 321.24,664.63 322.05,659.16 322.87,653.74 323.68,648.37 324.49,643.05 325.31,637.78 326.12,632.55 326.93,627.38 327.75,622.25 328.56,617.18 329.38,612.15 330.19,607.17 331.00,602.24 331.82,597.36 332.63,592.53 333.44,587.75 334.26,583.02 335.07,578.33 335.88,573.70 336.70,569.11 337.51,564.58 338.33,560.09 339.14,555.65 339.95,551.26 340.77,546.93 341.58,542.64 342.39,538.40 343.21,534.20 344.02,530.06 344.84,525.97 345.65,521.93 346.46,517.94 347.28,513.99 348.09,510.10 348.90,506.25 349.72,502.46 350.53,498.71 351.35,495.02 352.16,491.37 352.97,487.77 353.79,484.22 354.60,480.73 355.42,477.28 356.23,473.88 357.04,470.53 357.86,467.23 358.67,463.98 359.48,460.78 360.30,457.64 361.11,454.54 361.93,451.49 362.74,448.49 363.55,445.53 364.37,442.63 365.18,439.78 365.99,436.98 366.81,434.23 367.62,431.53 368.44,428.88 369.25,426.28 370.06,423.73 370.88,421.23 371.69,418.78 372.50,416.38 373.32,414.03 374.13,411.73 374.94,409.48 375.76,407.28 376.57,405.13 377.39,403.03 378.20,400.98 379.01,398.98 379.83,397.03 380.64,395.13 381.46,393.28 382.27,391.48 383.08,389.73 383.90,388.04 384.71,386.39 385.52,384.79 386.34,383.25 387.15,381.75 387.97,380.30 388.78,378.91 389.59,377.56 390.41,376.27 391.22,375.03 392.03,373.83 392.85,372.69 393.66,371.60 394.48,370.56 395.29,369.57 396.10,368.63 396.92,367.74 397.73,366.90 398.54,366.11 399.36,365.37 400.17,364.69 400.99,364.05 401.80,363.46 402.61,362.93 403.43,362.45 404.24,362.01 405.05,361.63 405.87,361.30 406.68,361.02 407.50,360.79 408.31,360.61 409.12,360.48 409.94,360.41 410.75,360.38 411.56,360.45 412.38,360.66 413.19,361.00 414.00,361.48 414.82,362.09 415.63,362.83 416.45,363.71 417.26,364.71 418.07,365.84 418.89,367.10 419.70,368.48 420.51,369.99 421.33,371.62 422.14,373.37 422.96,375.24 423.77,377.22 424.58,379.33 425.40,381.55 426.21,383.88 427.03,386.33 427.84,388.89 428.65,391.56 429.47,394.33 430.28,397.22 431.09,400.21 431.91,403.30 432.72,406.50 433.54,409.80 434.35,413.20 435.16,416.70 435.98,420.30 436.79,423.99 437.60,427.78 438.42,431.66 439.23,435.63 440.04,439.69 440.86,443.85 441.67,448.09 442.49,452.42 443.30,456.83 444.11,461.33 444.93,465.91 445.74,470.57 446.56,475.31 447.37,480.12 448.18,485.02 449.00,489.99 449.81,495.04 450.62,500.15 451.44,505.34 452.25,510.60 453.06,515.93 453.88,521.33 454.69,526.79 455.51,532.31 456.32,537.90 457.13,543.55 457.95,549.27 458.76,555.04 459.57,560.86 460.39,566.75 461.20,572.69 462.02,578.68 462.83,584.73 463.64,590.82 464.46,596.97 465.27,603.16 466.08,609.40 466.90,615.68 467.71,622.01 468.53,628.39 469.34,634.80 470.15,641.25 470.97,647.74 471.78,654.27 472.60,660.83 473.41,667.43 474.22,674.06 475.04,680.72 475.85,687.42 476.66,694.14 477.48,700.89 478.29,707.66 479.10,714.46 479.92,721.28 480.73,728.13 481.55,734.99 482.36,741.87 483.17,748.78 483.99,755.69 484.80,762.63 485.62,769.57 486.43,776.53 487.24,783.50 488.06,790.48 488.87,797.47 489.68,804.46 490.50,811.46 491.31,818.46 492.12,825.47 492.94,832.48 493.75,839.48 494.57,846.49 495.38,853.49 496.19,860.49 497.01,867.48 497.82,874.47 498.63,881.44 499.45,888.41 500.26,895.37 501.08,902.31 501.89,909.24 502.70,916.16 503.52,923.05 504.33,929.93 505.15,936.79 505.96,943.63 506.77,950.45 507.59,957.24 508.40,964.01 509.21,970.75 510.03,977.47 510.84,984.15 511.66,990.81 512.47,997.43 513.28,1004.02 514.10,1010.57 514.91,1017.09 515.72,1023.58 516.54,1030.02 517.35,1036.42 518.16,1042.78 518.98,1049.10 519.79,1055.38 520.61,1061.61 521.42,1067.79 522.23,1073.92 523.05,1080.01 523.86,1086.04 524.67,1092.02 525.49,1097.95 526.30,1103.82 527.12,1109.63 527.93,1115.39 528.74,1121.08 529.56,1126.72 530.37,1132.30 531.18,1137.81 532.00,1143.25 532.81,1148.63 533.63,1153.94 534.44,1159.19 535.25,1164.36 536.07,1169.46 536.88,1174.49 537.69,1179.44 538.51,1184.32 539.32,1189.12 540.14,1193.84 540.95,1198.48 541.76,1203.04 542.58,1207.52 543.39,1211.91 544.21,1216.22 545.02,1220.44 545.83,1224.57 546.65,1228.61 547.46,1232.56 548.27,1236.42 549.09,1240.19 549.90,1243.86 550.72,1247.43 551.53,1250.91 552.34,1254.28 553.16,1257.56 553.97,1260.73 554.78,1263.80 555.60,1266.77 556.41,1269.63 557.23,1272.38 558.04,1275.02 558.85,1277.55 559.67,1279.97 560.48,1282.28 561.29,1284.47 562.11,1286.55 562.92,1288.51 563.74,1290.35 564.55,1292.07 565.36,1293.67 566.18,1295.15 566.99,1296.50 567.80,1297.73 568.62,1298.83 569.43,1299.80 570.25,1300.65 571.06,1301.36 571.87,1301.94 572.69,1302.38 573.50,1302.70 574.31,1302.94 575.13,1303.18 575.94,1303.42 576.75,1303.66 577.57,1303.90 578.38,1304.13 579.20,1304.37 580.01,1304.60 580.82,1304.84 581.64,1305.07 582.45,1305.30 583.26,1305.53 584.08,1305.76 584.89,1305.98 585.71,1306.21 586.52,1306.44 587.33,1306.66 588.15,1306.88 588.96,1307.11 589.77,1307.33 590.59,1307.55 591.40,1307.76 592.22,1307.98 593.03,1308.20 593.84,1308.41 594.66,1308.63 595.47,1308.84 596.29,1309.05 597.10,1309.26 597.91,1309.47 598.73,1309.68 599.54,1309.89 600.35,1310.09 601.17,1310.30 601.98,1310.50 602.80,1310.70 603.61,1310.90 604.42,1311.11 605.24,1311.30 606.05,1311.50 606.86,1311.70 607.68,1311.89 608.49,1312.09 609.31,1312.28 610.12,1312.47 610.93,1312.66 611.75,1312.85 612.56,1313.04 613.37,1313.23 614.19,1313.42 615.00,1313.60 615.82,1313.79 616.63,1313.97 617.44,1314.15 618.26,1314.33 619.07,1314.51 619.88,1314.69 620.70,1314.87 621.51,1315.04 622.33,1315.22 623.14,1315.39 623.95,1315.56 624.77,1315.73 625.58,1315.90 626.39,1316.07 627.21,1316.24 628.02,1316.40 628.84,1316.57 629.65,1316.73 630.46,1316.90 631.28,1317.06 632.09,1317.22 632.90,1317.38 633.72,1317.54 634.53,1317.69 635.35,1317.85 636.16,1318.00 636.97,1318.16 637.79,1318.31 638.60,1318.46 639.41,1318.61 640.23,1318.76 641.04,1318.90 641.86,1319.05 642.67,1319.20 643.48,1319.34 644.30,1319.48 645.11,1319.62 645.92,1319.76 646.74,1319.90 647.55,1320.04 648.37,1320.18 649.18,1320.31 649.99,1320.45 650.81,1320.58 651.62,1320.71 652.43,1320.84 653.25,1320.97 654.06,1321.10 654.88,1321.22 655.69,1321.35 656.50,1321.47 657.32,1321.60 658.13,1321.72 658.94,1321.84 659.76,1321.96 660.57,1322.08 661.38,1322.19 662.20,1322.31 663.01,1322.43 663.83,1322.54 664.64,1322.65 665.45,1322.76 666.27,1322.87 667.08,1322.98 667.89,1323.09 668.71,1323.19 669.52,1323.30 670.34,1323.40 671.15,1323.50 671.96,1323.61 672.78,1323.71 673.59,1323.80 674.40,1323.90 675.22,1324.00 676.03,1324.09 676.85,1324.19 677.66,1324.28 678.47,1324.37 679.29,1324.46 680.10,1324.55 680.92,1324.64 681.73,1324.72 682.54,1324.81 683.36,1324.89 684.17,1324.97 684.98,1325.05 685.80,1325.13 686.61,1325.21 687.42,1325.29 688.24,1325.37 689.05,1325.44 689.87,1325.52 690.68,1325.59 691.49,1325.66 692.31,1325.73 693.12,1325.80 693.94,1325.87 694.75,1325.93 695.56,1326.00 696.38,1326.06 697.19,1326.12 698.00,1326.18 698.82,1326.24 699.63,1326.30 700.45,1326.36 701.26,1326.42 702.07,1326.47 702.89,1326.52 703.70,1326.58 704.51,1326.63 705.33,1326.68 706.14,1326.73 706.96,1326.77 707.77,1326.82 708.58,1326.86 709.40,1326.91 710.21,1326.95 711.02,1326.99 711.84,1327.03 712.65,1327.07 713.46,1327.10 714.28,1327.14 715.09,1327.17 715.91,1327.21 716.72,1327.24 717.53,1327.27 718.35,1327.30 719.16,1327.33 719.98,1327.35 720.79,1327.38 721.60,1327.40 722.42,1327.43 723.23,1327.45 724.04,1327.47 724.86,1327.49 725.67,1327.50 726.49,1327.52 727.30,1327.54 728.11,1327.55 728.93,1327.56 729.74,1327.57 730.55,1327.58 731.37,1327.59 732.18,1327.60 733.00,1327.60 733.81,1327.61 734.62,1327.61 735.44,1327.61 736.25,1327.61 737.06,1327.61 737.88,1327.61 738.69,1327.61 739.50,1327.61 740.32,1327.61 741.13,1327.60 741.95,1327.60 742.76,1327.60 743.57,1327.59 744.39,1327.59 745.20,1327.58 746.01,1327.57 746.83,1327.57 747.64,1327.56 748.46,1327.55 749.27,1327.54 750.08,1327.53 750.90,1327.52 751.71,1327.51 752.52,1327.50 753.34,1327.49 754.15,1327.48 754.97,1327.47 755.78,1327.46 756.59,1327.45 757.41,1327.43 758.22,1327.42 759.04,1327.40 759.85,1327.39 760.66,1327.38 761.48,1327.36 762.29,1327.34 763.10,1327.33 763.92,1327.31 764.73,1327.29 765.54,1327.28 766.36,1327.26 767.17,1327.24 767.99,1327.22 768.80,1327.21 769.61,1327.19 770.43,1327.17 771.24,1327.15 772.06,1327.13 772.87,1327.11 773.68,1327.09 774.50,1327.06 775.31,1327.04 776.12,1327.02 776.94,1327.00 777.75,1326.98 778.57,1326.95 779.38,1326.93 780.19,1326.91 781.01,1326.89 781.82,1326.86 782.63,1326.84 783.45,1326.81 784.26,1326.79 785.08,1326.76 785.89,1326.74 786.70,1326.71 787.52,1326.69 788.33,1326.66 789.14,1326.64 789.96,1326.61 790.77,1326.59 791.58,1326.56 792.40,1326.53 793.21,1326.51 794.03,1326.48 794.84,1326.45 795.65,1326.42 796.47,1326.40 797.28,1326.37 798.10,1326.34 798.91,1326.31 799.72,1326.29 800.54,1326.26 801.35,1326.23 802.16,1326.20 802.98,1326.17 803.79,1326.14 804.61,1326.12 805.42,1326.09 806.23,1326.06 807.05,1326.03 807.86,1326.00 808.67,1325.97 809.49,1325.94 810.30,1325.91 811.12,1325.88 811.93,1325.85 812.74,1325.82 813.56,1325.79 814.37,1325.76 815.18,1325.74 816.00,1325.71 816.81,1325.68 817.62,1325.65 818.44,1325.62 819.25,1325.59 820.07,1325.56 820.88,1325.53 821.69,1325.50 822.51,1325.47 823.32,1325.44 824.13,1325.41 824.95,1325.38 825.76,1325.35 826.58,1325.32 827.39,1325.29 828.20,1325.27 829.02,1325.24 829.83,1325.21 830.64,1325.18 831.46,1325.15 832.27,1325.12 833.09,1325.09 833.90,1325.06 834.71,1325.04 835.53,1325.01 836.34,1324.98 837.15,1324.95 837.97,1324.92 838.78,1324.90 839.60,1324.87 840.41,1324.84 841.22,1324.82 842.04,1324.79 842.85,1324.76 843.67,1324.73 844.48,1324.71 845.29,1324.68 846.11,1324.66 846.92,1324.63 847.73,1324.60 848.55,1324.58 849.36,1324.55 850.17,1324.53 850.99,1324.50 851.80,1324.48 852.62,1324.46 853.43,1324.43 854.24,1324.41 855.06,1324.39 855.87,1324.36 856.69,1324.34 857.50,1324.32 858.31,1324.29 859.13,1324.27 859.94,1324.25 860.75,1324.23 861.57,1324.21 862.38,1324.19 863.20,1324.17 864.01,1324.15 864.82,1324.13 865.64,1324.11 866.45,1324.09 867.26,1324.07 868.08,1324.05 868.89,1324.03 869.71,1324.02 870.52,1324.00 871.33,1323.98 872.15,1323.97 872.96,1323.95 873.77,1323.93 874.59,1323.92 875.40,1323.90 876.21,1323.89 877.03,1323.88 877.84,1323.86 878.66,1323.85 879.47,1323.84 880.28,1323.82 881.10,1323.81 881.91,1323.80 882.73,1323.79 883.54,1323.78 884.35,1323.77 885.17,1323.76 885.98,1323.75 886.79,1323.74 887.61,1323.73 888.42,1323.73 889.24,1323.72 890.05,1323.71 890.86,1323.71 891.68,1323.70 892.49,1323.70 893.30,1323.69 894.12,1323.69 894.93,1323.69 895.75,1323.68 896.56,1323.68 897.37,1323.68 898.19,1323.68 899.00,1323.68 899.81,1323.68 900.63,1323.68 901.44,1323.69 902.26,1323.70 903.07,1323.71 903.88,1323.72 904.70,1323.74 905.51,1323.76 906.32,1323.78 907.14,1323.80 907.95,1323.83 908.77,1323.86 909.58,1323.89 910.39,1323.92 911.21,1323.95 912.02,1323.99 912.83,1324.03 913.65,1324.07 914.46,1324.11 915.27,1324.16 916.09,1324.20 916.90,1324.25 917.72,1324.30 918.53,1324.36 919.34,1324.41 920.16,1324.47 920.97,1324.53 921.78,1324.59 922.60,1324.65 923.41,1324.72 924.23,1324.78 925.04,1324.85 925.85,1324.92 926.67,1324.99 927.48,1325.06 928.29,1325.14 929.11,1325.21 929.92,1325.29 930.74,1325.37 931.55,1325.45 932.36,1325.54 933.18,1325.62 933.99,1325.71 934.80,1325.79 935.62,1325.88 936.43,1325.97 937.25,1326.06 938.06,1326.15 938.87,1326.25 939.69,1326.34 940.50,1326.44 941.31,1326.54 942.13,1326.64 942.94,1326.74 943.76,1326.84 944.57,1326.94 945.38,1327.04 946.20,1327.15 947.01,1327.26 947.83,1327.36 948.64,1327.47 949.45,1327.58 950.27,1327.69 951.08,1327.80 951.89,1327.91 952.71,1328.02 953.52,1328.14 954.33,1328.25 955.15,1328.37 955.96,1328.48 956.78,1328.60 957.59,1328.72 958.40,1328.84 959.22,1328.95 960.03,1329.07 960.85,1329.19 961.66,1329.32 962.47,1329.44 963.29,1329.56 964.10,1329.68 964.91,1329.80 965.73,1329.93 966.54,1330.05 967.36,1330.18 968.17,1330.30 968.98,1330.43 969.80,1330.55 970.61,1330.68 971.42,1330.80 972.24,1330.93 973.05,1331.06 973.87,1331.18 974.68,1331.31 975.49,1331.44 976.31,1331.57 977.12,1331.69 977.93,1331.82 978.75,1331.95 979.56,1332.08 980.38,1332.20 981.19,1332.33 982.00,1332.46 982.82,1332.59 983.63,1332.72 984.44,1332.84 985.26,1332.97 986.07,1333.10 986.88,1333.23 987.70,1333.35 988.51,1333.48 989.33,1333.61 990.14,1333.73 990.95,1333.86 991.77,1333.98 992.58,1334.11 993.39,1334.23 994.21,1334.36 995.02,1334.48 995.84,1334.60 996.65,1334.73 997.46,1334.85 998.28,1334.97 999.09,1335.09 999.90,1335.21 1000.72,1335.33 1001.53,1335.45 1002.35,1335.57 1003.16,1335.69 1003.97,1335.81 1004.79,1335.93 1005.60,1336.04 1006.42,1336.16 1007.23,1336.27 1008.04,1336.38 1008.86,1336.50 1009.67,1336.61 1010.48,1336.72 1011.30,1336.83 1012.11,1336.94 1012.92,1337.05 1013.74,1337.15 1014.55,1337.26 1015.37,1337.36 1016.18,1337.47 1016.99,1337.57 1017.81,1337.67 1018.62,1337.77 1019.44,1337.87 1020.25,1337.97 1021.06,1338.07 1021.88,1338.16 1022.69,1338.25 1023.50,1338.35 1024.32,1338.44 1025.13,1338.53 1025.95,1338.62 1026.76,1338.70 1027.57,1338.79 1028.39,1338.87 1029.20,1338.96 1030.01,1339.04 1030.83,1339.12 1031.64,1339.19 1032.45,1339.27 1033.27,1339.35 1034.08,1339.42 1034.90,1339.49 1035.71,1339.56 1036.52,1339.63 1037.34,1339.69 1038.15,1339.76 1038.97,1339.82 1039.78,1339.88 1040.59,1339.94 1041.41,1340.00 1042.22,1340.05 1043.03,1340.10 1043.85,1340.16 1044.66,1340.20 1045.48,1340.25 1046.29,1340.30 1047.10,1340.34 1047.92,1340.38 1048.73,1340.42 1049.54,1340.46 1050.36,1340.49 1051.17,1340.52 1051.99,1340.55 1052.80,1340.58 1053.61,1340.61 1054.43,1340.63 1055.24,1340.65 1056.05,1340.67 1056.87,1340.68 1057.68,1340.70 1058.50,1340.71 1059.31,1340.72 1060.12,1340.72 1060.94,1340.73 1061.75,1340.73 1062.56,1340.73 1063.38,1340.73 1064.19,1340.72 1065.01,1340.72 1065.82,1340.71 1066.63,1340.70 1067.45,1340.69 1068.26,1340.68 1069.07,1340.67 1069.89,1340.66 1070.70,1340.64 1071.52,1340.63 1072.33,1340.61 1073.14,1340.59 1073.96,1340.57 1074.77,1340.55 1075.58,1340.53 1076.40,1340.50 1077.21,1340.48 1078.03,1340.45 1078.84,1340.43 1079.65,1340.40 1080.47,1340.37 1081.28,1340.34 1082.09,1340.31 1082.91,1340.27 1083.72,1340.24 1084.54,1340.20 1085.35,1340.17 1086.16,1340.13 1086.98,1340.09 1087.79,1340.05 1088.60,1340.01 1089.42,1339.97 1090.23,1339.93 1091.04,1339.89 1091.86,1339.84 1092.67,1339.80 1093.49,1339.75 1094.30,1339.71 1095.11,1339.66 1095.93,1339.61 1096.74,1339.56 1097.55,1339.51 1098.37,1339.46 1099.18,1339.41 1100.00,1339.35 1100.81,1339.30 1101.62,1339.25 1102.44,1339.19 1103.25,1339.14 1104.07,1339.08 1104.88,1339.02 1105.69,1338.97 1106.51,1338.91 1107.32,1338.85 1108.13,1338.79 1108.95,1338.73 1109.76,1338.67 1110.58,1338.60 1111.39,1338.54 1112.20,1338.48 1113.02,1338.42 1113.83,1338.35 1114.64,1338.29 1115.46,1338.22 1116.27,1338.16 1117.09,1338.09 1117.90,1338.02 1118.71,1337.96 1119.53,1337.89 1120.34,1337.82 1121.15,1337.75 1121.97,1337.69 1122.78,1337.62 1123.60,1337.55 1124.41,1337.48 1125.22,1337.41 1126.04,1337.34 1126.85,1337.27 1127.66,1337.20 1128.48,1337.12 1129.29,1337.05 1130.11,1336.98 1130.92,1336.91 1131.73,1336.84 1132.55,1336.76 1133.36,1336.69 1134.17,1336.62 1134.99,1336.55 1135.80,1336.47 1136.62,1336.40 1137.43,1336.33 1138.24,1336.25 1139.06,1336.18 1139.87,1336.11 1140.68,1336.03 1141.50,1335.96 1142.31,1335.88 1143.12,1335.81 1143.94,1335.74 1144.75,1335.66 1145.57,1335.59 1146.38,1335.52 1147.19,1335.44 1148.01,1335.37 1148.82,1335.30 1149.63,1335.22 1150.45,1335.15 1151.26,1335.08 1152.08,1335.00 1152.89,1334.93 1153.70,1334.86 1154.52,1334.79 1155.33,1334.71 1156.14,1334.64 1156.96,1334.57 1157.77,1334.50 1158.59,1334.43 1159.40,1334.36 1160.21,1334.28 1161.03,1334.21 1161.84,1334.14 1162.65,1334.07 1163.47,1334.01 1164.28,1333.94 1165.10,1333.87 1165.91,1333.80 1166.72,1333.73 1167.54,1333.66 1168.35,1333.60 1169.16,1333.53 1169.98,1333.47 1170.79,1333.40 1171.61,1333.33 1172.42,1333.27 1173.23,1333.21 1174.05,1333.14 1174.86,1333.08 1175.67,1333.02 1176.49,1332.96 1177.30,1332.89 1178.12,1332.83 1178.93,1332.77 1179.74,1332.72 1180.56,1332.66 1181.37,1332.60 1182.18,1332.54 1183.00,1332.49 1183.81,1332.43 1184.63,1332.37 1185.44,1332.32 1186.25,1332.27 1187.07,1332.21 1187.88,1332.16 1188.70,1332.11 1189.51,1332.06 1190.32,1332.01 1191.14,1331.96 1191.95,1331.92 1192.76,1331.87 1193.58,1331.82 1194.39,1331.78 1195.21,1331.73 1196.02,1331.69 1196.83,1331.65 1197.65,1331.61 1198.46,1331.57 1199.27,1331.53 1200.09,1331.49 1200.90,1331.45 1201.71,1331.42 1202.53,1331.38 1203.34,1331.35 1204.16,1331.32 1204.97,1331.28 1205.78,1331.25 1206.60,1331.22 1207.41,1331.20 1208.22,1331.17 1209.04,1331.14 1209.85,1331.12 1210.67,1331.09 1211.48,1331.07 1212.29,1331.05 1213.11,1331.03 1213.92,1331.01 1214.74,1330.99 1215.55,1330.98 1216.36,1330.96 1217.18,1330.95 1217.99,1330.94 1218.80,1330.93 1219.62,1330.92 1220.43,1330.91 1221.25,1330.90 1222.06,1330.90 1222.87,1330.90 1223.69,1330.89 1224.50,1330.89 1225.31,1330.89 1226.13,1330.90 1226.94,1330.90 1227.76,1330.90 1228.57,1330.91 1229.38,1330.91 1230.20,1330.92 1231.01,1330.93 1231.82,1330.94 1232.64,1330.95 1233.45,1330.96 1234.27,1330.97 1235.08,1330.98 1235.89,1330.99 1236.71,1331.01 1237.52,1331.02 1238.33,1331.04 1239.15,1331.06 1239.96,1331.08 1240.78,1331.09 1241.59,1331.11 1242.40,1331.14 1243.22,1331.16 1244.03,1331.18 1244.84,1331.20 1245.66,1331.23 1246.47,1331.25 1247.29,1331.28 1248.10,1331.30 1248.91,1331.33 1249.73,1331.36 1250.54,1331.39 1251.35,1331.42 1252.17,1331.45 1252.98,1331.48 1253.79,1331.51 1254.61,1331.54 1255.42,1331.58 1256.24,1331.61 1257.05,1331.64 1257.86,1331.68 1258.68,1331.71 1259.49,1331.75 1260.30,1331.79 1261.12,1331.82 1261.93,1331.86 1262.75,1331.90 1263.56,1331.94 1264.37,1331.98 1265.19,1332.02 1266.00,1332.06 1266.82,1332.10 1267.63,1332.14 1268.44,1332.19 1269.26,1332.23 1270.07,1332.27 1270.88,1332.32 1271.70,1332.36 1272.51,1332.41 1273.33,1332.45 1274.14,1332.50 1274.95,1332.54 1275.77,1332.59 1276.58,1332.64 1277.39,1332.68 1278.21,1332.73 1279.02,1332.78 1279.84,1332.83 1280.65,1332.88 1281.46,1332.93 1282.28,1332.97 1283.09,1333.02 1283.90,1333.07 1284.72,1333.12 1285.53,1333.18 1286.35,1333.23 1287.16,1333.28 1287.97,1333.33 1288.79,1333.38 1289.60,1333.43 1290.41,1333.48 1291.23,1333.54 1292.04,1333.59 1292.86,1333.64 1293.67,1333.69 1294.48,1333.75 1295.30,1333.80 1296.11,1333.85 1296.92,1333.91 1297.74,1333.96 1298.55,1334.01 1299.37,1334.07 1300.18,1334.12 1300.99,1334.18 1301.81,1334.23 1302.62,1334.28 1303.43,1334.34 1304.25,1334.39 1305.06,1334.45 1305.88,1334.50 1306.69,1334.55 1307.50,1334.61 1308.32,1334.66 1309.13,1334.72 1309.94,1334.77 1310.76,1334.82 1311.57,1334.88 1312.38,1334.93 1313.20,1334.99 1314.01,1335.04 1314.83,1335.09 1315.64,1335.15 1316.45,1335.20 1317.27,1335.25 1318.08,1335.31 1318.89,1335.36 1319.71,1335.41 1320.52,1335.46 1321.34,1335.52 1322.15,1335.57 1322.96,1335.62 1323.78,1335.67 1324.59,1335.72 1325.40,1335.77 1326.22,1335.82 1327.03,1335.87 1327.85,1335.92 1328.66,1335.97 1329.47,1336.02 1330.29,1336.07 1331.10,1336.12 1331.91,1336.17 1332.73,1336.22 1333.54,1336.27 1334.36,1336.32 1335.17,1336.36 1335.98,1336.41 1336.80,1336.46 1337.61,1336.50 1338.42,1336.55 1339.24,1336.59 1340.05,1336.64 1340.87,1336.68 1341.68,1336.73 1342.49,1336.77 1343.31,1336.81 1344.12,1336.86 1344.93,1336.90 1345.75,1336.94 1346.56,1336.98 1347.38,1337.02 1348.19,1337.06 1349.00,1337.10 1349.82,1337.14 1350.63,1337.18 1351.45,1337.21 1352.26,1337.25 1353.07,1337.29 1353.89,1337.32 1354.70,1337.36 1355.51,1337.39 1356.33,1337.42 1357.14,1337.46 1357.96,1337.49 1358.77,1337.52 1359.58,1337.55 1360.40,1337.58 1361.21,1337.61 1362.02,1337.64 1362.84,1337.67 1363.65,1337.70 1364.46,1337.72 1365.28,1337.75 1366.09,1337.77 1366.91,1337.80 1367.72,1337.82 1368.53,1337.84 1369.35,1337.86 1370.16,1337.88 1370.97,1337.90 1371.79,1337.92 1372.60,1337.94 1373.42,1337.96 1374.23,1337.98 1375.04,1337.99 1375.86,1338.01 1376.67,1338.02 1377.49,1338.03 1378.30,1338.04 1379.11,1338.05 1379.93,1338.06 1380.74,1338.07 1381.55,1338.08 1382.37,1338.09 1383.18,1338.09 1384.00,1338.10 1384.81,1338.10 1385.62,1338.10 1386.44,1338.11 1387.25,1338.11 1388.06,1338.10 1388.88,1338.10 1389.69,1338.09 1390.51,1338.07 1391.32,1338.05 1392.13,1338.03 1392.95,1338.01 1393.76,1337.97 1394.57,1337.94 1395.39,1337.90 1396.20,1337.86 1397.02,1337.81 1397.83,1337.76 1398.64,1337.71 1399.46,1337.65 1400.27,1337.59 1401.08,1337.53 1401.90,1337.46 1402.71,1337.39 1403.53,1337.32 1404.34,1337.24 1405.15,1337.16 1405.97,1337.07 1406.78,1336.99 1407.59,1336.89 1408.41,1336.80 1409.22,1336.70 1410.04,1336.60 1410.85,1336.50 1411.66,1336.39 1412.48,1336.28 1413.29,1336.17 1414.10,1336.06 1414.92,1335.94 1415.73,1335.82 1416.54,1335.69 1417.36,1335.57 1418.17,1335.44 1418.99,1335.31 1419.80,1335.17 1420.61,1335.04 1421.43,1334.90 1422.24,1334.76 1423.05,1334.61 1423.87,1334.47 1424.68,1334.32 1425.50,1334.17 1426.31,1334.01 1427.12,1333.86 1427.94,1333.70 1428.75,1333.54 1429.57,1333.38 1430.38,1333.22 1431.19,1333.05 1432.01,1332.88 1432.82,1332.71 1433.63,1332.54 1434.45,1332.37 1435.26,1332.19 1436.08,1332.02 1436.89,1331.84 1437.70,1331.66 1438.52,1331.48 1439.33,1331.29 1440.14,1331.11 1440.96,1330.92 1441.77,1330.73 1442.59,1330.54 1443.40,1330.35 1444.21,1330.16 1445.03,1329.97 1445.84,1329.77 1446.65,1329.58 1447.47,1329.38 1448.28,1329.18 1449.10,1328.99 1449.91,1328.79 1450.72,1328.59 1451.54,1328.38 1452.35,1328.18 1453.16,1327.98 1453.98,1327.77 1454.79,1327.57 1455.61,1327.36 1456.42,1327.16 1457.23,1326.95 1458.05,1326.74 1458.86,1326.53 1459.67,1326.32 1460.49,1326.12 1461.30,1325.91 1462.12,1325.70 1462.93,1325.49 1463.74,1325.27 1464.56,1325.06 1465.37,1324.85 1466.18,1324.64 1467.00,1324.43 1467.81,1324.22 1468.62,1324.01 1469.44,1323.80 1470.25,1323.58 1471.07,1323.37 1471.88,1323.16 1472.69,1322.95 1473.51,1322.74 1474.32,1322.53 1475.13,1322.32 1475.95,1322.11 1476.76,1321.90 1477.58,1321.69 1478.39,1321.48 1479.20,1321.27 1480.02,1321.07 1480.83,1320.86 1481.64,1320.65 1482.46,1320.45 1483.27,1320.24 1484.09,1320.04 1484.90,1319.83 1485.71,1319.63 1486.53,1319.43 1487.34,1319.23 1488.15,1319.03 1488.97,1318.83 1489.78,1318.63 1490.60,1318.44 1491.41,1318.24 1492.22,1318.05 1493.04,1317.85 1493.85,1317.66 1494.66,1317.47 1495.48,1317.28 1496.29,1317.09 1497.11,1316.91 1497.92,1316.72 1498.73,1316.54 1499.55,1316.36 1500.36,1316.18 1501.17,1316.00 1501.99,1315.82 1502.80,1315.65 1503.62,1315.47 1504.43,1315.30 1505.24,1315.13 1506.06,1314.97 1506.87,1314.80 1507.68,1314.64 1508.50,1314.47 1509.31,1314.31 1510.13,1314.16 1510.94,1314.00 1511.75,1313.85 1512.57,1313.70 1513.38,1313.55 1514.20,1313.40 1515.01,1313.26 1515.82,1313.12 1516.64,1312.98 1517.45,1312.84 1518.26,1312.71 1519.08,1312.58 1519.89,1312.45 1520.71,1312.32 1521.52,1312.20 1522.33,1312.08 1523.15,1311.96 1523.96,1311.84 1524.77,1311.73 1525.59,1311.62 1526.40,1311.52 1527.21,1311.41 1528.03,1311.31 1528.84,1311.21 1529.66,1311.12 1530.47,1311.03 1531.28,1310.94 1532.10,1310.86 1532.91,1310.78 1533.72,1310.70 1534.54,1310.62 1535.35,1310.55 1536.17,1310.49 1536.98,1310.42 1537.79,1310.36 1538.61,1310.30 1539.42,1310.25 1540.24,1310.20 1541.05,1310.16 1541.86,1310.11 1542.68,1310.08 1543.49,1310.04 1544.30,1310.01 1545.12,1309.98 1545.93,1309.96 1546.75,1309.94 1547.56,1309.93 1548.37,1309.92 1549.19,1309.91 1550.00,1309.91 1550.81,1309.91 1551.63,1309.91 1552.44,1309.92 1553.25,1309.93 1554.07,1309.94 1554.88,1309.95 1555.70,1309.97 1556.51,1309.98 1557.32,1310.00 1558.14,1310.03 1558.95,1310.05 1559.77,1310.08 1560.58,1310.11 1561.39,1310.14 1562.21,1310.17 1563.02,1310.20 1563.83,1310.24 1564.65,1310.28 1565.46,1310.32 1566.28,1310.36 1567.09,1310.41 1567.90,1310.46 1568.72,1310.51 1569.53,1310.56 1570.34,1310.61 1571.16,1310.66 1571.97,1310.72 1572.79,1310.78 1573.60,1310.84 1574.41,1310.90 1575.23,1310.97 1576.04,1311.03 1576.85,1311.10 1577.67,1311.17 1578.48,1311.24 1579.29,1311.31 1580.11,1311.39 1580.92,1311.46 1581.74,1311.54 1582.55,1311.62 1583.36,1311.70 1584.18,1311.78 1584.99,1311.86 1585.81,1311.95 1586.62,1312.04 1587.43,1312.13 1588.25,1312.21 1589.06,1312.31 1589.87,1312.40 1590.69,1312.49 1591.50,1312.59 1592.32,1312.68 1593.13,1312.78 1593.94,1312.88 1594.76,1312.98 1595.57,1313.08 1596.38,1313.19 1597.20,1313.29 1598.01,1313.40 1598.83,1313.50 1599.64,1313.61 1600.45,1313.72 1601.27,1313.83 1602.08,1313.94 1602.89,1314.05 1603.71,1314.17 1604.52,1314.28 1605.34,1314.40 1606.15,1314.51 1606.96,1314.63 1607.78,1314.75 1608.59,1314.87 1609.40,1314.99 1610.22,1315.11 1611.03,1315.23 1611.85,1315.35 1612.66,1315.48 1613.47,1315.60 1614.29,1315.72 1615.10,1315.85 1615.91,1315.98 1616.73,1316.10 1617.54,1316.23 1618.36,1316.36 1619.17,1316.49 1619.98,1316.62 1620.80,1316.75 1621.61,1316.88 1622.42,1317.01 1623.24,1317.14 1624.05,1317.28 1624.87,1317.41 1625.68,1317.54 1626.49,1317.68 1627.31,1317.81 1628.12,1317.95 1628.93,1318.08 1629.75,1318.22 1630.56,1318.36 1631.38,1318.49 1632.19,1318.63 1633.00,1318.77 1633.82,1318.90 1634.63,1319.04 1635.44,1319.18 1636.26,1319.32 1637.07,1319.46 1637.89,1319.59 1638.70,1319.73 1639.51,1319.87 1640.33,1320.01 1641.14,1320.15 1641.95,1320.29 1642.77,1320.43 1643.58,1320.57 1644.39,1320.70 1645.21,1320.84 1646.02,1320.98 1646.84,1321.12 1647.65,1321.26 1648.46,1321.40 1649.28,1321.54 1650.09,1321.68 1650.91,1321.81 1651.72,1321.95 1652.53,1322.09 1653.35,1322.23 1654.16,1322.37 1654.97,1322.50 1655.79,1322.64 1656.60,1322.78 1657.41,1322.91 1658.23,1323.05 1659.04,1323.18 1659.86,1323.32 1660.67,1323.45 1661.48,1323.59 1662.30,1323.72 1663.11,1323.85 1663.93,1323.99 1664.74,1324.12 1665.55,1324.25 1666.37,1324.38 1667.18,1324.51 1667.99,1324.64 1668.81,1324.77 1669.62,1324.90 1670.43,1325.03 1671.25,1325.16 1672.06,1325.28 1672.88,1325.41 1673.69,1325.53 1674.50,1325.66 1675.32,1325.78 1676.13,1325.90 1676.94,1326.03 1677.76,1326.15 1678.57,1326.27 1679.39,1326.39 1680.20,1326.50 1681.01,1326.62 1681.83,1326.74 1682.64,1326.85 1683.46,1326.97 1684.27,1327.08 1685.08,1327.19 1685.90,1327.30 1686.71,1327.41 1687.52,1327.52 1688.34,1327.63 1689.15,1327.74 1689.96,1327.84 1690.78,1327.95 1691.59,1328.05 1692.41,1328.15 1693.22,1328.25 1694.03,1328.35 1694.85,1328.45 1695.66,1328.55 1696.47,1328.64 1697.29,1328.74 1698.10,1328.83 1698.92,1328.92 1699.73,1329.01 1700.54,1329.10 1701.36,1329.19 1702.17,1329.27 1702.98,1329.36 1703.80,1329.44 1704.61,1329.52 1705.43,1329.60 1706.24,1329.68 1707.05,1329.75 1707.87,1329.83 1708.68,1329.90 1709.50,1329.97 1710.31,1330.04 1711.12,1330.11 1711.94,1330.17 1712.75,1330.24 1713.56,1330.30 1714.38,1330.36 1715.19,1330.43 1716.00,1330.49 1716.82,1330.55 1717.63,1330.62 1718.45,1330.68 1719.26,1330.74 1720.07,1330.80 1720.89,1330.87 1721.70,1330.93 1722.52,1330.99 1723.33,1331.05 1724.14,1331.12 1724.96,1331.18 1725.77,1331.24 1726.58,1331.30 1727.40,1331.36 1728.21,1331.42 1729.03,1331.49 1729.84,1331.55 1730.65,1331.61 1731.47,1331.67 1732.28,1331.73 1733.09,1331.79 1733.91,1331.85 1734.72,1331.91 1735.54,1331.98 1736.35,1332.04 1737.16,1332.10 1737.98,1332.16 1738.79,1332.22 1739.60,1332.28 1740.42,1332.34 1741.23,1332.40 1742.04,1332.46 1742.86,1332.52 1743.67,1332.58 1744.49,1332.64 1745.30,1332.70 1746.11,1332.75 1746.93,1332.81 1747.74,1332.87 1748.56,1332.93 1749.37,1332.99 1750.18,1333.05 1751.00,1333.11 1751.81,1333.17 1752.62,1333.22 1753.44,1333.28 1754.25,1333.34 1755.07,1333.40 1755.88,1333.45 1756.69,1333.51 1757.51,1333.57 1758.32,1333.63 1759.13,1333.68 1759.95,1333.74 1760.76,1333.80 1761.58,1333.85 1762.39,1333.91 1763.20,1333.96 1764.02,1334.02 1764.83,1334.08 1765.64,1334.13 1766.46,1334.19 1767.27,1334.24 1768.09,1334.30 1768.90,1334.35 1769.71,1334.41 1770.53,1334.46 1771.34,1334.52 1772.15,1334.57 1772.97,1334.62 1773.78,1334.68 1774.60,1334.73 1775.41,1334.78 1776.22,1334.84 1777.04,1334.89 1777.85,1334.94 1778.66,1335.00 1779.48,1335.05 1780.29,1335.10 1781.11,1335.15 1781.92,1335.21 1782.73,1335.26 1783.55,1335.31 1784.36,1335.36 1785.17,1335.41 1785.99,1335.46 1786.80,1335.51 1787.62,1335.56 1788.43,1335.61 1789.24,1335.66 1790.06,1335.71 1790.87,1335.76 1791.68,1335.81 1792.50,1335.86 1793.31,1335.91 1794.12,1335.96 1794.94,1336.01 1795.75,1336.05 1796.57,1336.10 1797.38,1336.15 1798.19,1336.20 1799.01,1336.24 1799.82,1336.29 1800.64,1336.34 1801.45,1336.39 1802.26,1336.43 1803.08,1336.48 1803.89,1336.52 1804.70,1336.57 1805.52,1336.61 1806.33,1336.66 1807.14,1336.70 1807.96,1336.75 1808.77,1336.79 1809.59,1336.84 1810.40,1336.88 1811.21,1336.92 1812.03,1336.97 1812.84,1337.01 1813.66,1337.05 1814.47,1337.10 1815.28,1337.14 1816.10,1337.18 1816.91,1337.22 1817.72,1337.26 1818.54,1337.30 1819.35,1337.35 1820.16,1337.39 1820.98,1337.43 1821.79,1337.47 1822.61,1337.51 1823.42,1337.55 1824.23,1337.59 1825.05,1337.62 1825.86,1337.66 1826.68,1337.70 1827.49,1337.74 1828.30,1337.78 1829.12,1337.81 1829.93,1337.85 1830.74,1337.89 1831.56,1337.93 1832.37,1337.96 1833.18,1338.00 1834.00,1338.03 1834.81,1338.07 1835.63,1338.10 1836.44,1338.14 1837.25,1338.17 1838.07,1338.21 1838.88,1338.24 1839.69,1338.28 1840.51,1338.31 1841.32,1338.34 1842.14,1338.37 1842.95,1338.41 1843.76,1338.44 1844.58,1338.47 1845.39,1338.50 1846.21,1338.53 1847.02,1338.56 1847.83,1338.59 1848.65,1338.62 1849.46,1338.65 1850.27,1338.68 1851.09,1338.71 1851.90,1338.74 1852.71,1338.77 1853.53,1338.80 1854.34,1338.82 1855.16,1338.85 1855.97,1338.88 1856.78,1338.90 1857.60,1338.93 1858.41,1338.96 1859.22,1338.98 1860.04,1339.01 1860.85,1339.03 1861.67,1339.06 1862.48,1339.08 1863.29,1339.10 1864.11,1339.13 1864.92,1339.15 1865.73,1339.17 1866.55,1339.20 1867.36,1339.22 1868.18,1339.24 1868.99,1339.26 1869.80,1339.28 1870.62,1339.30 1871.43,1339.32 1872.25,1339.34 1873.06,1339.36 1873.87,1339.38 1874.69,1339.40 1875.50,1339.42" fill="none" stroke="#1a64e6" stroke-width="4.5" stroke-linejoin="round"/>
<circle cx="248.0" cy="1354.5" r="13" fill="#1764ea"/>
<circle cx="410.8" cy="360.4" r="13" fill="#1764ea"/>
<circle cx="573.5" cy="1302.7" r="13" fill="#1764ea"/>
<circle cx="736.2" cy="1327.6" r="13" fill="#1764ea"/>
<circle cx="899.0" cy="1323.7" r="13" fill="#1764ea"/>
<circle cx="1061.8" cy="1340.7" r="13" fill="#1764ea"/>
<circle cx="1224.5" cy="1330.9" r="13" fill="#1764ea"/>
<circle cx="1387.2" cy="1338.1" r="13" fill="#1764ea"/>
<circle cx="1550.0" cy="1309.9" r="13" fill="#1764ea"/>
<circle cx="1712.8" cy="1330.2" r="13" fill="#1764ea"/>
<circle cx="1875.5" cy="1339.4" r="13" fill="#1764ea"/>
</g>
<line x1="248.0" y1="437" x2="1876.5" y2="437" stroke="#ec6518" stroke-width="5.2" stroke-dasharray="22.4 22.44"/>
<g class="tk">
<text x="248.0" y="1424.5" text-anchor="middle">0</text>
<text x="410.8" y="1424.5" text-anchor="middle">1</text>
<text x="573.5" y="1424.5" text-anchor="middle">2</text>
<text x="736.2" y="1424.5" text-anchor="middle">3</text>
<text x="899.0" y="1424.5" text-anchor="middle">4</text>
<text x="1061.8" y="1424.5" text-anchor="middle">5</text>
<text x="1224.5" y="1424.5" text-anchor="middle">6</text>
<text x="1387.2" y="1424.5" text-anchor="middle">7</text>
<text x="1550.0" y="1424.5" text-anchor="middle">8</text>
<text x="1712.8" y="1424.5" text-anchor="middle">9</text>
<text x="1875.5" y="1424.5" text-anchor="middle">10</text>
<text transform="translate(111.2,1375.0) scale(0.975,1)">0.00</text>
<text transform="translate(111.2,1047.1) scale(0.955,1)">0.05</text>
<text transform="translate(111.2,719.2) scale(0.975,1)">0.10</text>
<text transform="translate(111.2,391.4) scale(0.955,1)">0.15</text>
<text transform="translate(111.2,63.5) scale(0.975,1)">0.20</text>
</g>
<line x1="1415" y1="135.5" x2="1570" y2="135.5" stroke="#1a64e6" stroke-width="5.5"/>
<circle cx="1492.0" cy="135.5" r="13" fill="#1764ea"/>
<text transform="translate(1589.5,159.0) scale(0.94,1)" class="lg">1.2m/s</text>
<line x1="1415" y1="220.0" x2="1570" y2="220.0" stroke="#2fae6c" stroke-width="5.5"/>
<polygon points="1475.0,210.7 1509.0,210.7 1492.0,238.7" fill="#2bb46e"/>
<text transform="translate(1589.5,242.6) scale(0.94,1)" class="lg">1.0m/s</text>
<line x1="1415" y1="304.0" x2="1570" y2="304.0" stroke="#4a4a4a" stroke-width="5.5"/>
<rect x="1480.25" y="292.25" width="23.5" height="23.5" fill="#4d4d4d"/>
<text transform="translate(1586.5,326.2) scale(0.945,1)" class="lg">0.8m/s</text>
<line x1="1415" y1="387.5" x2="1570" y2="387.5" stroke="#e0415a" stroke-width="5.5"/>
<polygon points="1492.0,370.0 1507.5,387.5 1492.0,405.0 1476.5,387.5" fill="#f5333a"/>
<text transform="translate(1586.5,409.0) scale(0.945,1)" class="lg">0.6m/s</text>
<text x="502" y="401" style="font-size:68px;font-style:italic" stroke="#fff" stroke-width="0.8">ε</text>
<text transform="translate(532,419) scale(0.96,1)" style="font-size:47px;font-style:italic">max</text>
<text transform="translate(1061,1513) scale(0.955,1)" text-anchor="middle" style="font-size:78px">Time (ms)</text>
<text transform="translate(74,697) rotate(-90) scale(0.962,1)" text-anchor="middle" style="font-size:78px">Stress (MPa)</text>
</svg>
</body></html>
